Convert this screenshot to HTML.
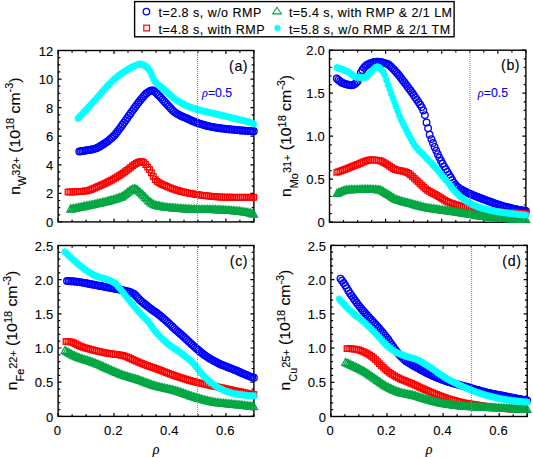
<!DOCTYPE html>
<html><head><meta charset="utf-8"><style>
html,body{margin:0;padding:0;background:#fff;width:533px;height:458px;overflow:hidden;position:relative}
text{font-family:"Liberation Sans",sans-serif;fill:#000;stroke:#000;stroke-width:0.12px}
.rho{font-family:"Liberation Serif",serif;font-style:italic;font-size:14px}
.rhoi{font-family:"Liberation Serif",serif;font-style:italic}
</style></head><body>
<svg width="533" height="458" viewBox="0 0 533 458" style="position:absolute;left:0;top:0"><defs><circle id="mc" r="3.3" fill="none" stroke="#0000FF" stroke-width="1.35"/><rect id="ms" x="-2.75" y="-2.75" width="5.5" height="5.5" fill="none" stroke="#FF0000" stroke-width="1.3"/><path id="mt" d="M0,-4.1 L3.7,2.75 L-3.7,2.75 Z" fill="none" stroke="#02A642" stroke-width="1.3" stroke-linejoin="miter"/><path id="mx" d="M0.00,-3.55 L0.98,-2.36 L2.51,-2.51 L2.36,-0.98 L3.55,0.00 L2.36,0.98 L2.51,2.51 L0.98,2.36 L0.00,3.55 L-0.98,2.36 L-2.51,2.51 L-2.36,0.98 L-3.55,0.00 L-2.36,-0.98 L-2.51,-2.51 L-0.98,-2.36 Z" fill="#00FFFF" stroke="#00FFFF" stroke-width="0.7" stroke-linejoin="round"/></defs><rect x="58.1" y="50.5" width="195.8" height="171.4" fill="none" stroke="#000" stroke-width="1.4"/><path d="M58.1,221.9v-3.5M58.1,50.5v3.5M72.1,221.9v-2.2M72.1,50.5v2.2M86.1,221.9v-2.2M86.1,50.5v2.2M100.1,221.9v-2.2M100.1,50.5v2.2M114.0,221.9v-3.5M114.0,50.5v3.5M128.0,221.9v-2.2M128.0,50.5v2.2M142.0,221.9v-2.2M142.0,50.5v2.2M156.0,221.9v-2.2M156.0,50.5v2.2M170.0,221.9v-3.5M170.0,50.5v3.5M184.0,221.9v-2.2M184.0,50.5v2.2M198.0,221.9v-2.2M198.0,50.5v2.2M211.9,221.9v-2.2M211.9,50.5v2.2M225.9,221.9v-3.5M225.9,50.5v3.5M239.9,221.9v-2.2M239.9,50.5v2.2M253.9,221.9v-2.2M253.9,50.5v2.2M58.1,221.9h3.5M253.9,221.9h-3.5M58.1,214.8h2.2M253.9,214.8h-2.2M58.1,207.6h2.2M253.9,207.6h-2.2M58.1,200.5h2.2M253.9,200.5h-2.2M58.1,193.3h3.5M253.9,193.3h-3.5M58.1,186.2h2.2M253.9,186.2h-2.2M58.1,179.1h2.2M253.9,179.1h-2.2M58.1,171.9h2.2M253.9,171.9h-2.2M58.1,164.8h3.5M253.9,164.8h-3.5M58.1,157.6h2.2M253.9,157.6h-2.2M58.1,150.5h2.2M253.9,150.5h-2.2M58.1,143.3h2.2M253.9,143.3h-2.2M58.1,136.2h3.5M253.9,136.2h-3.5M58.1,129.1h2.2M253.9,129.1h-2.2M58.1,121.9h2.2M253.9,121.9h-2.2M58.1,114.8h2.2M253.9,114.8h-2.2M58.1,107.6h3.5M253.9,107.6h-3.5M58.1,100.5h2.2M253.9,100.5h-2.2M58.1,93.3h2.2M253.9,93.3h-2.2M58.1,86.2h2.2M253.9,86.2h-2.2M58.1,79.1h3.5M253.9,79.1h-3.5M58.1,71.9h2.2M253.9,71.9h-2.2M58.1,64.8h2.2M253.9,64.8h-2.2M58.1,57.6h2.2M253.9,57.6h-2.2M58.1,50.5h3.5M253.9,50.5h-3.5" stroke="#000" stroke-width="1.2" fill="none"/><g><use href="#mc" x="79.3" y="151.5"/><use href="#mc" x="80.9" y="151.3"/><use href="#mc" x="82.5" y="151.0"/><use href="#mc" x="84.1" y="150.8"/><use href="#mc" x="85.7" y="150.5"/><use href="#mc" x="87.3" y="150.2"/><use href="#mc" x="88.9" y="150.0"/><use href="#mc" x="90.5" y="149.7"/><use href="#mc" x="92.1" y="149.4"/><use href="#mc" x="93.7" y="149.0"/><use href="#mc" x="95.3" y="148.6"/><use href="#mc" x="96.9" y="148.0"/><use href="#mc" x="98.5" y="147.2"/><use href="#mc" x="100.1" y="146.3"/><use href="#mc" x="101.7" y="145.3"/><use href="#mc" x="103.3" y="144.3"/><use href="#mc" x="104.9" y="143.3"/><use href="#mc" x="106.5" y="142.1"/><use href="#mc" x="108.1" y="140.9"/><use href="#mc" x="109.7" y="139.6"/><use href="#mc" x="111.3" y="138.3"/><use href="#mc" x="112.9" y="136.8"/><use href="#mc" x="114.5" y="135.2"/><use href="#mc" x="116.1" y="133.3"/><use href="#mc" x="117.7" y="131.2"/><use href="#mc" x="119.3" y="129.1"/><use href="#mc" x="120.9" y="126.9"/><use href="#mc" x="122.5" y="124.7"/><use href="#mc" x="124.1" y="122.5"/><use href="#mc" x="125.7" y="120.2"/><use href="#mc" x="127.3" y="117.9"/><use href="#mc" x="128.9" y="115.6"/><use href="#mc" x="130.5" y="113.4"/><use href="#mc" x="132.1" y="111.1"/><use href="#mc" x="133.7" y="108.9"/><use href="#mc" x="135.3" y="106.8"/><use href="#mc" x="136.9" y="104.6"/><use href="#mc" x="138.5" y="102.5"/><use href="#mc" x="140.1" y="100.5"/><use href="#mc" x="141.7" y="98.6"/><use href="#mc" x="143.3" y="96.7"/><use href="#mc" x="144.9" y="94.8"/><use href="#mc" x="146.5" y="93.3"/><use href="#mc" x="148.1" y="92.1"/><use href="#mc" x="149.7" y="91.1"/><use href="#mc" x="151.3" y="90.4"/><use href="#mc" x="152.9" y="90.4"/><use href="#mc" x="154.5" y="91.3"/><use href="#mc" x="156.1" y="92.8"/><use href="#mc" x="157.7" y="94.4"/><use href="#mc" x="159.3" y="95.9"/><use href="#mc" x="160.9" y="97.6"/><use href="#mc" x="162.5" y="99.4"/><use href="#mc" x="164.1" y="101.2"/><use href="#mc" x="165.7" y="102.9"/><use href="#mc" x="167.4" y="104.7"/><use href="#mc" x="169.0" y="106.4"/><use href="#mc" x="170.6" y="108.2"/><use href="#mc" x="172.2" y="109.9"/><use href="#mc" x="173.8" y="111.4"/><use href="#mc" x="175.4" y="112.6"/><use href="#mc" x="177.0" y="113.7"/><use href="#mc" x="178.6" y="114.6"/><use href="#mc" x="180.2" y="115.4"/><use href="#mc" x="181.8" y="116.2"/><use href="#mc" x="183.4" y="116.9"/><use href="#mc" x="185.0" y="117.6"/><use href="#mc" x="186.6" y="118.3"/><use href="#mc" x="188.2" y="119.0"/><use href="#mc" x="189.8" y="119.8"/><use href="#mc" x="191.4" y="120.5"/><use href="#mc" x="193.0" y="121.2"/><use href="#mc" x="194.6" y="121.8"/><use href="#mc" x="196.2" y="122.4"/><use href="#mc" x="197.8" y="123.0"/><use href="#mc" x="199.4" y="123.6"/><use href="#mc" x="201.0" y="124.1"/><use href="#mc" x="202.6" y="124.5"/><use href="#mc" x="204.2" y="125.0"/><use href="#mc" x="205.8" y="125.4"/><use href="#mc" x="207.4" y="125.9"/><use href="#mc" x="209.0" y="126.3"/><use href="#mc" x="210.6" y="126.6"/><use href="#mc" x="212.2" y="127.0"/><use href="#mc" x="213.8" y="127.3"/><use href="#mc" x="215.4" y="127.6"/><use href="#mc" x="217.0" y="127.8"/><use href="#mc" x="218.6" y="128.0"/><use href="#mc" x="220.2" y="128.3"/><use href="#mc" x="221.8" y="128.5"/><use href="#mc" x="223.4" y="128.6"/><use href="#mc" x="225.0" y="128.8"/><use href="#mc" x="226.6" y="129.0"/><use href="#mc" x="228.2" y="129.2"/><use href="#mc" x="229.8" y="129.3"/><use href="#mc" x="231.4" y="129.5"/><use href="#mc" x="233.0" y="129.6"/><use href="#mc" x="234.6" y="129.8"/><use href="#mc" x="236.2" y="130.0"/><use href="#mc" x="237.8" y="130.1"/><use href="#mc" x="239.4" y="130.2"/><use href="#mc" x="241.0" y="130.4"/><use href="#mc" x="242.6" y="130.5"/><use href="#mc" x="244.2" y="130.6"/><use href="#mc" x="245.8" y="130.8"/><use href="#mc" x="247.4" y="130.9"/><use href="#mc" x="249.0" y="131.0"/><use href="#mc" x="250.6" y="131.1"/><use href="#mc" x="252.2" y="131.2"/><use href="#mc" x="253.8" y="131.3"/></g><g><use href="#ms" x="68.0" y="192.0"/><use href="#ms" x="69.9" y="192.0"/><use href="#ms" x="71.8" y="191.9"/><use href="#ms" x="73.7" y="191.9"/><use href="#ms" x="75.6" y="191.8"/><use href="#ms" x="77.5" y="191.7"/><use href="#ms" x="79.4" y="191.5"/><use href="#ms" x="81.3" y="191.4"/><use href="#ms" x="83.2" y="191.2"/><use href="#ms" x="85.1" y="191.0"/><use href="#ms" x="87.0" y="190.8"/><use href="#ms" x="88.9" y="190.3"/><use href="#ms" x="90.8" y="189.7"/><use href="#ms" x="92.6" y="188.9"/><use href="#ms" x="94.5" y="188.1"/><use href="#ms" x="96.4" y="187.2"/><use href="#ms" x="98.3" y="186.4"/><use href="#ms" x="100.2" y="185.6"/><use href="#ms" x="102.1" y="184.7"/><use href="#ms" x="104.0" y="183.9"/><use href="#ms" x="105.9" y="183.0"/><use href="#ms" x="107.8" y="182.0"/><use href="#ms" x="109.7" y="181.1"/><use href="#ms" x="111.6" y="180.1"/><use href="#ms" x="113.5" y="179.0"/><use href="#ms" x="115.4" y="178.0"/><use href="#ms" x="117.3" y="176.8"/><use href="#ms" x="119.2" y="175.6"/><use href="#ms" x="121.1" y="174.4"/><use href="#ms" x="123.0" y="173.1"/><use href="#ms" x="124.9" y="171.8"/><use href="#ms" x="126.8" y="170.4"/><use href="#ms" x="128.7" y="169.0"/><use href="#ms" x="130.6" y="167.4"/><use href="#ms" x="132.5" y="165.8"/><use href="#ms" x="134.4" y="164.5"/><use href="#ms" x="136.3" y="163.4"/><use href="#ms" x="138.1" y="162.4"/><use href="#ms" x="140.0" y="161.7"/><use href="#ms" x="141.9" y="161.5"/><use href="#ms" x="143.8" y="162.6"/><use href="#ms" x="145.7" y="164.6"/><use href="#ms" x="147.6" y="167.1"/><use href="#ms" x="149.5" y="169.6"/><use href="#ms" x="151.4" y="172.8"/><use href="#ms" x="153.3" y="176.5"/><use href="#ms" x="155.2" y="179.6"/><use href="#ms" x="157.1" y="181.4"/><use href="#ms" x="159.0" y="182.7"/><use href="#ms" x="160.9" y="183.8"/><use href="#ms" x="162.8" y="184.7"/><use href="#ms" x="164.7" y="185.5"/><use href="#ms" x="166.6" y="186.3"/><use href="#ms" x="168.5" y="187.2"/><use href="#ms" x="170.4" y="187.9"/><use href="#ms" x="172.3" y="188.7"/><use href="#ms" x="174.2" y="189.3"/><use href="#ms" x="176.1" y="190.0"/><use href="#ms" x="178.0" y="190.5"/><use href="#ms" x="179.9" y="191.1"/><use href="#ms" x="181.8" y="191.6"/><use href="#ms" x="183.7" y="192.0"/><use href="#ms" x="185.5" y="192.5"/><use href="#ms" x="187.4" y="192.9"/><use href="#ms" x="189.3" y="193.2"/><use href="#ms" x="191.2" y="193.6"/><use href="#ms" x="193.1" y="193.9"/><use href="#ms" x="195.0" y="194.3"/><use href="#ms" x="196.9" y="194.6"/><use href="#ms" x="198.8" y="194.8"/><use href="#ms" x="200.7" y="195.1"/><use href="#ms" x="202.6" y="195.4"/><use href="#ms" x="204.5" y="195.6"/><use href="#ms" x="206.4" y="195.8"/><use href="#ms" x="208.3" y="196.0"/><use href="#ms" x="210.2" y="196.2"/><use href="#ms" x="212.1" y="196.4"/><use href="#ms" x="214.0" y="196.6"/><use href="#ms" x="215.9" y="196.7"/><use href="#ms" x="217.8" y="196.9"/><use href="#ms" x="219.7" y="197.0"/><use href="#ms" x="221.6" y="197.1"/><use href="#ms" x="223.5" y="197.2"/><use href="#ms" x="225.4" y="197.2"/><use href="#ms" x="227.3" y="197.2"/><use href="#ms" x="229.2" y="197.2"/><use href="#ms" x="231.0" y="197.2"/><use href="#ms" x="232.9" y="197.3"/><use href="#ms" x="234.8" y="197.3"/><use href="#ms" x="236.7" y="197.3"/><use href="#ms" x="238.6" y="197.3"/><use href="#ms" x="240.5" y="197.3"/><use href="#ms" x="242.4" y="197.3"/><use href="#ms" x="244.3" y="197.3"/><use href="#ms" x="246.2" y="197.3"/><use href="#ms" x="248.1" y="197.3"/><use href="#ms" x="250.0" y="197.3"/><use href="#ms" x="251.9" y="197.3"/><use href="#ms" x="253.8" y="197.3"/></g><g><use href="#mt" x="70.5" y="209.3"/><use href="#mt" x="72.1" y="209.0"/><use href="#mt" x="73.7" y="208.7"/><use href="#mt" x="75.3" y="208.4"/><use href="#mt" x="76.9" y="208.1"/><use href="#mt" x="78.5" y="207.7"/><use href="#mt" x="80.1" y="207.4"/><use href="#mt" x="81.7" y="207.1"/><use href="#mt" x="83.3" y="206.8"/><use href="#mt" x="84.8" y="206.4"/><use href="#mt" x="86.4" y="206.1"/><use href="#mt" x="88.0" y="205.8"/><use href="#mt" x="89.6" y="205.4"/><use href="#mt" x="91.2" y="205.1"/><use href="#mt" x="92.8" y="204.8"/><use href="#mt" x="94.4" y="204.4"/><use href="#mt" x="96.0" y="204.1"/><use href="#mt" x="97.6" y="203.7"/><use href="#mt" x="99.2" y="203.4"/><use href="#mt" x="100.8" y="203.0"/><use href="#mt" x="102.4" y="202.6"/><use href="#mt" x="104.0" y="202.3"/><use href="#mt" x="105.6" y="201.9"/><use href="#mt" x="107.2" y="201.5"/><use href="#mt" x="108.8" y="201.0"/><use href="#mt" x="110.3" y="200.6"/><use href="#mt" x="111.9" y="200.2"/><use href="#mt" x="113.5" y="199.8"/><use href="#mt" x="115.1" y="199.3"/><use href="#mt" x="116.7" y="198.8"/><use href="#mt" x="118.3" y="198.2"/><use href="#mt" x="119.9" y="197.6"/><use href="#mt" x="121.5" y="197.0"/><use href="#mt" x="123.1" y="196.0"/><use href="#mt" x="124.7" y="194.9"/><use href="#mt" x="126.3" y="193.6"/><use href="#mt" x="127.9" y="192.3"/><use href="#mt" x="129.5" y="191.1"/><use href="#mt" x="131.1" y="190.1"/><use href="#mt" x="132.7" y="189.4"/><use href="#mt" x="134.3" y="189.0"/><use href="#mt" x="135.9" y="189.2"/><use href="#mt" x="137.4" y="190.1"/><use href="#mt" x="139.0" y="191.4"/><use href="#mt" x="140.6" y="192.9"/><use href="#mt" x="142.2" y="194.4"/><use href="#mt" x="143.8" y="195.8"/><use href="#mt" x="145.4" y="197.5"/><use href="#mt" x="147.0" y="199.2"/><use href="#mt" x="148.6" y="200.9"/><use href="#mt" x="150.2" y="202.2"/><use href="#mt" x="151.8" y="203.3"/><use href="#mt" x="153.4" y="204.4"/><use href="#mt" x="155.0" y="205.2"/><use href="#mt" x="156.6" y="205.6"/><use href="#mt" x="158.2" y="206.0"/><use href="#mt" x="159.8" y="206.3"/><use href="#mt" x="161.4" y="206.6"/><use href="#mt" x="162.9" y="206.9"/><use href="#mt" x="164.5" y="207.1"/><use href="#mt" x="166.1" y="207.4"/><use href="#mt" x="167.7" y="207.6"/><use href="#mt" x="169.3" y="207.7"/><use href="#mt" x="170.9" y="207.9"/><use href="#mt" x="172.5" y="208.0"/><use href="#mt" x="174.1" y="208.2"/><use href="#mt" x="175.7" y="208.3"/><use href="#mt" x="177.3" y="208.4"/><use href="#mt" x="178.9" y="208.6"/><use href="#mt" x="180.5" y="208.7"/><use href="#mt" x="182.1" y="208.8"/><use href="#mt" x="183.7" y="208.9"/><use href="#mt" x="185.3" y="209.0"/><use href="#mt" x="186.9" y="209.1"/><use href="#mt" x="188.4" y="209.2"/><use href="#mt" x="190.0" y="209.3"/><use href="#mt" x="191.6" y="209.4"/><use href="#mt" x="193.2" y="209.4"/><use href="#mt" x="194.8" y="209.5"/><use href="#mt" x="196.4" y="209.5"/><use href="#mt" x="198.0" y="209.6"/><use href="#mt" x="199.6" y="209.6"/><use href="#mt" x="201.2" y="209.6"/><use href="#mt" x="202.8" y="209.6"/><use href="#mt" x="204.4" y="209.6"/><use href="#mt" x="206.0" y="209.7"/><use href="#mt" x="207.6" y="209.7"/><use href="#mt" x="209.2" y="209.7"/><use href="#mt" x="210.8" y="209.7"/><use href="#mt" x="212.4" y="209.7"/><use href="#mt" x="214.0" y="209.8"/><use href="#mt" x="215.5" y="209.8"/><use href="#mt" x="217.1" y="209.9"/><use href="#mt" x="218.7" y="209.9"/><use href="#mt" x="220.3" y="210.0"/><use href="#mt" x="221.9" y="210.1"/><use href="#mt" x="223.5" y="210.2"/><use href="#mt" x="225.1" y="210.3"/><use href="#mt" x="226.7" y="210.4"/><use href="#mt" x="228.3" y="210.5"/><use href="#mt" x="229.9" y="210.6"/><use href="#mt" x="231.5" y="210.7"/><use href="#mt" x="233.1" y="210.9"/><use href="#mt" x="234.7" y="211.0"/><use href="#mt" x="236.3" y="211.1"/><use href="#mt" x="237.9" y="211.3"/><use href="#mt" x="239.5" y="211.5"/><use href="#mt" x="241.0" y="211.7"/><use href="#mt" x="242.6" y="211.9"/><use href="#mt" x="244.2" y="212.1"/><use href="#mt" x="245.8" y="212.4"/><use href="#mt" x="247.4" y="212.6"/><use href="#mt" x="249.0" y="212.9"/><use href="#mt" x="250.6" y="213.3"/><use href="#mt" x="252.2" y="213.8"/><use href="#mt" x="253.8" y="214.3"/></g><g><use href="#mx" x="78.0" y="118.5"/><use href="#mx" x="79.6" y="116.8"/><use href="#mx" x="81.2" y="115.1"/><use href="#mx" x="82.8" y="113.4"/><use href="#mx" x="84.4" y="111.7"/><use href="#mx" x="86.0" y="110.0"/><use href="#mx" x="87.6" y="108.2"/><use href="#mx" x="89.2" y="106.5"/><use href="#mx" x="90.8" y="104.8"/><use href="#mx" x="92.4" y="103.0"/><use href="#mx" x="94.0" y="101.3"/><use href="#mx" x="95.6" y="99.5"/><use href="#mx" x="97.2" y="97.7"/><use href="#mx" x="98.8" y="95.8"/><use href="#mx" x="100.4" y="93.9"/><use href="#mx" x="102.0" y="92.0"/><use href="#mx" x="103.6" y="90.2"/><use href="#mx" x="105.2" y="88.4"/><use href="#mx" x="106.8" y="86.6"/><use href="#mx" x="108.4" y="84.9"/><use href="#mx" x="110.0" y="83.4"/><use href="#mx" x="111.6" y="81.8"/><use href="#mx" x="113.2" y="80.3"/><use href="#mx" x="114.8" y="78.9"/><use href="#mx" x="116.4" y="77.5"/><use href="#mx" x="118.0" y="76.1"/><use href="#mx" x="119.6" y="74.9"/><use href="#mx" x="121.2" y="73.8"/><use href="#mx" x="122.7" y="72.7"/><use href="#mx" x="124.3" y="71.6"/><use href="#mx" x="125.9" y="70.6"/><use href="#mx" x="127.5" y="69.6"/><use href="#mx" x="129.1" y="68.7"/><use href="#mx" x="130.7" y="67.8"/><use href="#mx" x="132.3" y="67.0"/><use href="#mx" x="133.9" y="66.3"/><use href="#mx" x="135.5" y="65.6"/><use href="#mx" x="137.1" y="64.9"/><use href="#mx" x="138.7" y="64.3"/><use href="#mx" x="140.3" y="64.0"/><use href="#mx" x="141.9" y="64.2"/><use href="#mx" x="143.5" y="64.9"/><use href="#mx" x="145.1" y="65.9"/><use href="#mx" x="146.7" y="67.2"/><use href="#mx" x="148.3" y="68.6"/><use href="#mx" x="149.9" y="71.0"/><use href="#mx" x="151.5" y="74.4"/><use href="#mx" x="153.1" y="78.1"/><use href="#mx" x="154.7" y="81.0"/><use href="#mx" x="156.3" y="82.9"/><use href="#mx" x="157.9" y="84.4"/><use href="#mx" x="159.5" y="85.8"/><use href="#mx" x="161.1" y="87.0"/><use href="#mx" x="162.7" y="88.3"/><use href="#mx" x="164.3" y="89.7"/><use href="#mx" x="165.9" y="91.1"/><use href="#mx" x="167.5" y="92.6"/><use href="#mx" x="169.1" y="94.1"/><use href="#mx" x="170.7" y="95.6"/><use href="#mx" x="172.3" y="97.0"/><use href="#mx" x="173.9" y="98.3"/><use href="#mx" x="175.5" y="99.4"/><use href="#mx" x="177.1" y="100.5"/><use href="#mx" x="178.7" y="101.5"/><use href="#mx" x="180.3" y="102.4"/><use href="#mx" x="181.9" y="103.3"/><use href="#mx" x="183.5" y="104.2"/><use href="#mx" x="185.1" y="105.0"/><use href="#mx" x="186.7" y="105.7"/><use href="#mx" x="188.3" y="106.4"/><use href="#mx" x="189.9" y="107.0"/><use href="#mx" x="191.5" y="107.6"/><use href="#mx" x="193.1" y="108.2"/><use href="#mx" x="194.7" y="108.7"/><use href="#mx" x="196.3" y="109.2"/><use href="#mx" x="197.9" y="109.7"/><use href="#mx" x="199.5" y="110.1"/><use href="#mx" x="201.1" y="110.5"/><use href="#mx" x="202.7" y="110.9"/><use href="#mx" x="204.3" y="111.3"/><use href="#mx" x="205.9" y="111.6"/><use href="#mx" x="207.5" y="112.0"/><use href="#mx" x="209.1" y="112.3"/><use href="#mx" x="210.6" y="112.7"/><use href="#mx" x="212.2" y="113.1"/><use href="#mx" x="213.8" y="113.5"/><use href="#mx" x="215.4" y="113.8"/><use href="#mx" x="217.0" y="114.2"/><use href="#mx" x="218.6" y="114.6"/><use href="#mx" x="220.2" y="114.9"/><use href="#mx" x="221.8" y="115.3"/><use href="#mx" x="223.4" y="115.7"/><use href="#mx" x="225.0" y="116.1"/><use href="#mx" x="226.6" y="116.5"/><use href="#mx" x="228.2" y="116.9"/><use href="#mx" x="229.8" y="117.3"/><use href="#mx" x="231.4" y="117.7"/><use href="#mx" x="233.0" y="118.1"/><use href="#mx" x="234.6" y="118.5"/><use href="#mx" x="236.2" y="118.9"/><use href="#mx" x="237.8" y="119.3"/><use href="#mx" x="239.4" y="119.7"/><use href="#mx" x="241.0" y="120.1"/><use href="#mx" x="242.6" y="120.4"/><use href="#mx" x="244.2" y="120.8"/><use href="#mx" x="245.8" y="121.2"/><use href="#mx" x="247.4" y="121.6"/><use href="#mx" x="249.0" y="122.1"/><use href="#mx" x="250.6" y="122.7"/><use href="#mx" x="252.2" y="123.3"/><use href="#mx" x="253.8" y="124.0"/></g><line x1="197.6" y1="51" x2="197.6" y2="221" stroke="#7878ff" stroke-width="1" stroke-dasharray="1 1"/><text transform="translate(53.50,227.00) scale(1.0,1)" text-anchor="end" style="font-size:13px;letter-spacing:0.2px" >0</text><text transform="translate(53.50,198.43) scale(1.0,1)" text-anchor="end" style="font-size:13px;letter-spacing:0.2px" >2</text><text transform="translate(53.50,169.87) scale(1.0,1)" text-anchor="end" style="font-size:13px;letter-spacing:0.2px" >4</text><text transform="translate(53.50,141.30) scale(1.0,1)" text-anchor="end" style="font-size:13px;letter-spacing:0.2px" >6</text><text transform="translate(53.50,112.73) scale(1.0,1)" text-anchor="end" style="font-size:13px;letter-spacing:0.2px" >8</text><text transform="translate(53.50,84.17) scale(1.0,1)" text-anchor="end" style="font-size:13px;letter-spacing:0.2px" >10</text><text transform="translate(53.50,55.60) scale(1.0,1)" text-anchor="end" style="font-size:13px;letter-spacing:0.2px" >12</text><text transform="translate(248.20,70.60) scale(1.0,1)" text-anchor="end" style="font-size:14.2px;letter-spacing:0.6px" >(a)</text><text transform="translate(202.0,96.8) scale(1.0,1)" style="font-size:12.3px;fill:#0000FF;stroke:#0000FF"><tspan class="rhoi">&#961;</tspan>=0.5</text><rect x="329.5" y="50.2" width="196.4" height="172.0" fill="none" stroke="#000" stroke-width="1.4"/><path d="M329.5,222.2v-3.5M329.5,50.2v3.5M343.5,222.2v-2.2M343.5,50.2v2.2M357.6,222.2v-2.2M357.6,50.2v2.2M371.6,222.2v-2.2M371.6,50.2v2.2M385.6,222.2v-3.5M385.6,50.2v3.5M399.6,222.2v-2.2M399.6,50.2v2.2M413.7,222.2v-2.2M413.7,50.2v2.2M427.7,222.2v-2.2M427.7,50.2v2.2M441.7,222.2v-3.5M441.7,50.2v3.5M455.8,222.2v-2.2M455.8,50.2v2.2M469.8,222.2v-2.2M469.8,50.2v2.2M483.8,222.2v-2.2M483.8,50.2v2.2M497.8,222.2v-3.5M497.8,50.2v3.5M511.9,222.2v-2.2M511.9,50.2v2.2M525.9,222.2v-2.2M525.9,50.2v2.2M329.5,222.2h3.5M525.9,222.2h-3.5M329.5,213.6h2.2M525.9,213.6h-2.2M329.5,205.0h2.2M525.9,205.0h-2.2M329.5,196.4h2.2M525.9,196.4h-2.2M329.5,187.8h2.2M525.9,187.8h-2.2M329.5,179.2h3.5M525.9,179.2h-3.5M329.5,170.6h2.2M525.9,170.6h-2.2M329.5,162.0h2.2M525.9,162.0h-2.2M329.5,153.4h2.2M525.9,153.4h-2.2M329.5,144.8h2.2M525.9,144.8h-2.2M329.5,136.2h3.5M525.9,136.2h-3.5M329.5,127.6h2.2M525.9,127.6h-2.2M329.5,119.0h2.2M525.9,119.0h-2.2M329.5,110.4h2.2M525.9,110.4h-2.2M329.5,101.8h2.2M525.9,101.8h-2.2M329.5,93.2h3.5M525.9,93.2h-3.5M329.5,84.6h2.2M525.9,84.6h-2.2M329.5,76.0h2.2M525.9,76.0h-2.2M329.5,67.4h2.2M525.9,67.4h-2.2M329.5,58.8h2.2M525.9,58.8h-2.2M329.5,50.2h3.5M525.9,50.2h-3.5" stroke="#000" stroke-width="1.2" fill="none"/><g><use href="#mc" x="336.8" y="78.5"/><use href="#mc" x="338.4" y="79.9"/><use href="#mc" x="340.0" y="81.3"/><use href="#mc" x="341.6" y="82.4"/><use href="#mc" x="343.2" y="83.2"/><use href="#mc" x="344.8" y="83.8"/><use href="#mc" x="346.4" y="84.3"/><use href="#mc" x="348.0" y="84.8"/><use href="#mc" x="349.6" y="85.1"/><use href="#mc" x="351.2" y="85.3"/><use href="#mc" x="352.8" y="85.1"/><use href="#mc" x="354.4" y="84.2"/><use href="#mc" x="356.0" y="82.9"/><use href="#mc" x="357.6" y="81.2"/><use href="#mc" x="359.2" y="77.4"/><use href="#mc" x="360.8" y="72.7"/><use href="#mc" x="362.4" y="70.0"/><use href="#mc" x="364.0" y="67.7"/><use href="#mc" x="365.6" y="65.9"/><use href="#mc" x="367.2" y="64.7"/><use href="#mc" x="368.9" y="64.0"/><use href="#mc" x="370.5" y="63.3"/><use href="#mc" x="372.1" y="62.7"/><use href="#mc" x="373.7" y="62.2"/><use href="#mc" x="375.3" y="61.9"/><use href="#mc" x="376.9" y="61.8"/><use href="#mc" x="378.5" y="61.8"/><use href="#mc" x="380.1" y="62.0"/><use href="#mc" x="381.7" y="62.3"/><use href="#mc" x="383.3" y="62.6"/><use href="#mc" x="384.9" y="63.1"/><use href="#mc" x="386.5" y="63.6"/><use href="#mc" x="388.1" y="64.2"/><use href="#mc" x="389.7" y="65.4"/><use href="#mc" x="391.3" y="66.9"/><use href="#mc" x="392.9" y="68.6"/><use href="#mc" x="394.5" y="70.3"/><use href="#mc" x="396.1" y="72.0"/><use href="#mc" x="397.7" y="73.8"/><use href="#mc" x="399.3" y="75.7"/><use href="#mc" x="400.9" y="77.8"/><use href="#mc" x="402.5" y="79.9"/><use href="#mc" x="404.1" y="82.0"/><use href="#mc" x="405.7" y="84.1"/><use href="#mc" x="407.3" y="86.2"/><use href="#mc" x="408.9" y="88.4"/><use href="#mc" x="410.5" y="90.5"/><use href="#mc" x="412.1" y="92.7"/><use href="#mc" x="413.7" y="95.0"/><use href="#mc" x="415.3" y="97.4"/><use href="#mc" x="416.9" y="99.8"/><use href="#mc" x="418.5" y="102.1"/><use href="#mc" x="420.1" y="104.4"/><use href="#mc" x="421.7" y="107.1"/><use href="#mc" x="423.3" y="110.4"/><use href="#mc" x="424.9" y="115.1"/><use href="#mc" x="426.5" y="122.4"/><use href="#mc" x="428.1" y="128.2"/><use href="#mc" x="429.7" y="134.7"/><use href="#mc" x="431.4" y="139.1"/><use href="#mc" x="433.0" y="143.0"/><use href="#mc" x="434.6" y="146.9"/><use href="#mc" x="436.2" y="150.6"/><use href="#mc" x="437.8" y="154.2"/><use href="#mc" x="439.4" y="157.6"/><use href="#mc" x="441.0" y="160.8"/><use href="#mc" x="442.6" y="163.7"/><use href="#mc" x="444.2" y="166.6"/><use href="#mc" x="445.8" y="169.3"/><use href="#mc" x="447.4" y="171.9"/><use href="#mc" x="449.0" y="174.6"/><use href="#mc" x="450.6" y="177.3"/><use href="#mc" x="452.2" y="180.0"/><use href="#mc" x="453.8" y="182.6"/><use href="#mc" x="455.4" y="184.8"/><use href="#mc" x="457.0" y="186.6"/><use href="#mc" x="458.6" y="187.8"/><use href="#mc" x="460.2" y="188.9"/><use href="#mc" x="461.8" y="189.8"/><use href="#mc" x="463.4" y="190.7"/><use href="#mc" x="465.0" y="191.4"/><use href="#mc" x="466.6" y="192.2"/><use href="#mc" x="468.2" y="192.9"/><use href="#mc" x="469.8" y="193.7"/><use href="#mc" x="471.4" y="194.4"/><use href="#mc" x="473.0" y="195.1"/><use href="#mc" x="474.6" y="195.8"/><use href="#mc" x="476.2" y="196.4"/><use href="#mc" x="477.8" y="197.0"/><use href="#mc" x="479.4" y="197.7"/><use href="#mc" x="481.0" y="198.3"/><use href="#mc" x="482.6" y="198.9"/><use href="#mc" x="484.2" y="199.5"/><use href="#mc" x="485.8" y="200.1"/><use href="#mc" x="487.4" y="200.7"/><use href="#mc" x="489.0" y="201.2"/><use href="#mc" x="490.6" y="201.8"/><use href="#mc" x="492.2" y="202.4"/><use href="#mc" x="493.8" y="203.0"/><use href="#mc" x="495.5" y="203.6"/><use href="#mc" x="497.1" y="204.1"/><use href="#mc" x="498.7" y="204.6"/><use href="#mc" x="500.3" y="205.2"/><use href="#mc" x="501.9" y="205.7"/><use href="#mc" x="503.5" y="206.1"/><use href="#mc" x="505.1" y="206.6"/><use href="#mc" x="506.7" y="207.0"/><use href="#mc" x="508.3" y="207.4"/><use href="#mc" x="509.9" y="207.8"/><use href="#mc" x="511.5" y="208.2"/><use href="#mc" x="513.1" y="208.6"/><use href="#mc" x="514.7" y="208.9"/><use href="#mc" x="516.3" y="209.3"/><use href="#mc" x="517.9" y="209.6"/><use href="#mc" x="519.5" y="209.9"/><use href="#mc" x="521.1" y="210.2"/><use href="#mc" x="522.7" y="210.5"/><use href="#mc" x="524.3" y="210.8"/><use href="#mc" x="525.9" y="211.0"/></g><g><use href="#ms" x="336.8" y="172.3"/><use href="#ms" x="338.7" y="171.7"/><use href="#ms" x="340.6" y="171.0"/><use href="#ms" x="342.5" y="170.3"/><use href="#ms" x="344.4" y="169.6"/><use href="#ms" x="346.3" y="168.9"/><use href="#ms" x="348.1" y="168.2"/><use href="#ms" x="350.0" y="167.4"/><use href="#ms" x="351.9" y="166.6"/><use href="#ms" x="353.8" y="165.8"/><use href="#ms" x="355.7" y="165.1"/><use href="#ms" x="357.6" y="164.4"/><use href="#ms" x="359.5" y="163.6"/><use href="#ms" x="361.4" y="162.8"/><use href="#ms" x="363.3" y="162.0"/><use href="#ms" x="365.2" y="161.2"/><use href="#ms" x="367.1" y="160.6"/><use href="#ms" x="368.9" y="160.1"/><use href="#ms" x="370.8" y="159.9"/><use href="#ms" x="372.7" y="159.9"/><use href="#ms" x="374.6" y="160.0"/><use href="#ms" x="376.5" y="160.2"/><use href="#ms" x="378.4" y="160.4"/><use href="#ms" x="380.3" y="160.8"/><use href="#ms" x="382.2" y="161.6"/><use href="#ms" x="384.1" y="162.7"/><use href="#ms" x="386.0" y="163.8"/><use href="#ms" x="387.9" y="164.9"/><use href="#ms" x="389.7" y="166.2"/><use href="#ms" x="391.6" y="167.5"/><use href="#ms" x="393.5" y="168.7"/><use href="#ms" x="395.4" y="169.5"/><use href="#ms" x="397.3" y="170.1"/><use href="#ms" x="399.2" y="170.5"/><use href="#ms" x="401.1" y="170.8"/><use href="#ms" x="403.0" y="171.2"/><use href="#ms" x="404.9" y="171.7"/><use href="#ms" x="406.8" y="172.4"/><use href="#ms" x="408.7" y="173.4"/><use href="#ms" x="410.5" y="174.9"/><use href="#ms" x="412.4" y="176.5"/><use href="#ms" x="414.3" y="178.3"/><use href="#ms" x="416.2" y="180.0"/><use href="#ms" x="418.1" y="181.7"/><use href="#ms" x="420.0" y="183.6"/><use href="#ms" x="421.9" y="185.4"/><use href="#ms" x="423.8" y="187.2"/><use href="#ms" x="425.7" y="188.9"/><use href="#ms" x="427.6" y="190.3"/><use href="#ms" x="429.5" y="191.4"/><use href="#ms" x="431.4" y="192.5"/><use href="#ms" x="433.2" y="193.5"/><use href="#ms" x="435.1" y="194.4"/><use href="#ms" x="437.0" y="195.5"/><use href="#ms" x="438.9" y="196.6"/><use href="#ms" x="440.8" y="197.8"/><use href="#ms" x="442.7" y="199.0"/><use href="#ms" x="444.6" y="200.2"/><use href="#ms" x="446.5" y="201.3"/><use href="#ms" x="448.4" y="202.1"/><use href="#ms" x="450.3" y="202.9"/><use href="#ms" x="452.2" y="203.5"/><use href="#ms" x="454.0" y="204.2"/><use href="#ms" x="455.9" y="204.7"/><use href="#ms" x="457.8" y="205.3"/><use href="#ms" x="459.7" y="205.8"/><use href="#ms" x="461.6" y="206.3"/><use href="#ms" x="463.5" y="206.7"/><use href="#ms" x="465.4" y="207.1"/><use href="#ms" x="467.3" y="207.5"/><use href="#ms" x="469.2" y="207.9"/><use href="#ms" x="471.1" y="208.2"/><use href="#ms" x="473.0" y="208.6"/><use href="#ms" x="474.8" y="208.9"/><use href="#ms" x="476.7" y="209.2"/><use href="#ms" x="478.6" y="209.4"/><use href="#ms" x="480.5" y="209.7"/><use href="#ms" x="482.4" y="210.0"/><use href="#ms" x="484.3" y="210.3"/><use href="#ms" x="486.2" y="210.5"/><use href="#ms" x="488.1" y="210.8"/><use href="#ms" x="490.0" y="211.0"/><use href="#ms" x="491.9" y="211.2"/><use href="#ms" x="493.8" y="211.4"/><use href="#ms" x="495.6" y="211.6"/><use href="#ms" x="497.5" y="211.8"/><use href="#ms" x="499.4" y="212.0"/><use href="#ms" x="501.3" y="212.1"/><use href="#ms" x="503.2" y="212.3"/><use href="#ms" x="505.1" y="212.4"/><use href="#ms" x="507.0" y="212.5"/><use href="#ms" x="508.9" y="212.7"/><use href="#ms" x="510.8" y="212.8"/><use href="#ms" x="512.7" y="212.9"/><use href="#ms" x="514.6" y="213.0"/><use href="#ms" x="516.4" y="213.1"/><use href="#ms" x="518.3" y="213.2"/><use href="#ms" x="520.2" y="213.3"/><use href="#ms" x="522.1" y="213.4"/><use href="#ms" x="524.0" y="213.4"/><use href="#ms" x="525.9" y="213.5"/></g><g><use href="#mt" x="337.0" y="193.5"/><use href="#mt" x="338.6" y="192.8"/><use href="#mt" x="340.2" y="192.1"/><use href="#mt" x="341.8" y="191.4"/><use href="#mt" x="343.4" y="190.9"/><use href="#mt" x="345.0" y="190.4"/><use href="#mt" x="346.6" y="190.1"/><use href="#mt" x="348.2" y="190.0"/><use href="#mt" x="349.8" y="189.9"/><use href="#mt" x="351.4" y="189.8"/><use href="#mt" x="353.0" y="189.8"/><use href="#mt" x="354.6" y="189.7"/><use href="#mt" x="356.2" y="189.7"/><use href="#mt" x="357.8" y="189.6"/><use href="#mt" x="359.4" y="189.6"/><use href="#mt" x="361.0" y="189.5"/><use href="#mt" x="362.6" y="189.5"/><use href="#mt" x="364.2" y="189.5"/><use href="#mt" x="365.8" y="189.5"/><use href="#mt" x="367.4" y="189.5"/><use href="#mt" x="369.0" y="189.5"/><use href="#mt" x="370.6" y="189.5"/><use href="#mt" x="372.2" y="189.6"/><use href="#mt" x="373.8" y="189.7"/><use href="#mt" x="375.4" y="189.7"/><use href="#mt" x="377.0" y="189.8"/><use href="#mt" x="378.6" y="190.0"/><use href="#mt" x="380.2" y="190.2"/><use href="#mt" x="381.8" y="190.9"/><use href="#mt" x="383.4" y="191.8"/><use href="#mt" x="385.0" y="192.8"/><use href="#mt" x="386.6" y="193.8"/><use href="#mt" x="388.2" y="194.7"/><use href="#mt" x="389.8" y="195.7"/><use href="#mt" x="391.4" y="196.8"/><use href="#mt" x="393.0" y="197.8"/><use href="#mt" x="394.6" y="198.8"/><use href="#mt" x="396.2" y="199.6"/><use href="#mt" x="397.8" y="200.2"/><use href="#mt" x="399.4" y="200.7"/><use href="#mt" x="401.0" y="201.2"/><use href="#mt" x="402.6" y="201.7"/><use href="#mt" x="404.2" y="202.1"/><use href="#mt" x="405.8" y="202.5"/><use href="#mt" x="407.4" y="202.9"/><use href="#mt" x="409.0" y="203.3"/><use href="#mt" x="410.6" y="203.7"/><use href="#mt" x="412.2" y="204.2"/><use href="#mt" x="413.8" y="204.6"/><use href="#mt" x="415.4" y="205.1"/><use href="#mt" x="417.0" y="205.5"/><use href="#mt" x="418.6" y="206.0"/><use href="#mt" x="420.2" y="206.4"/><use href="#mt" x="421.8" y="206.8"/><use href="#mt" x="423.4" y="207.2"/><use href="#mt" x="425.0" y="207.6"/><use href="#mt" x="426.6" y="207.9"/><use href="#mt" x="428.2" y="208.2"/><use href="#mt" x="429.8" y="208.5"/><use href="#mt" x="431.4" y="208.7"/><use href="#mt" x="433.1" y="209.0"/><use href="#mt" x="434.7" y="209.2"/><use href="#mt" x="436.3" y="209.4"/><use href="#mt" x="437.9" y="209.7"/><use href="#mt" x="439.5" y="209.9"/><use href="#mt" x="441.1" y="210.1"/><use href="#mt" x="442.7" y="210.3"/><use href="#mt" x="444.3" y="210.5"/><use href="#mt" x="445.9" y="210.7"/><use href="#mt" x="447.5" y="211.0"/><use href="#mt" x="449.1" y="211.2"/><use href="#mt" x="450.7" y="211.5"/><use href="#mt" x="452.3" y="211.7"/><use href="#mt" x="453.9" y="211.9"/><use href="#mt" x="455.5" y="212.2"/><use href="#mt" x="457.1" y="212.4"/><use href="#mt" x="458.7" y="212.7"/><use href="#mt" x="460.3" y="212.9"/><use href="#mt" x="461.9" y="213.2"/><use href="#mt" x="463.5" y="213.4"/><use href="#mt" x="465.1" y="213.7"/><use href="#mt" x="466.7" y="213.9"/><use href="#mt" x="468.3" y="214.2"/><use href="#mt" x="469.9" y="214.4"/><use href="#mt" x="471.5" y="214.7"/><use href="#mt" x="473.1" y="214.9"/><use href="#mt" x="474.7" y="215.2"/><use href="#mt" x="476.3" y="215.5"/><use href="#mt" x="477.9" y="215.8"/><use href="#mt" x="479.5" y="216.0"/><use href="#mt" x="481.1" y="216.3"/><use href="#mt" x="482.7" y="216.5"/><use href="#mt" x="484.3" y="216.7"/><use href="#mt" x="485.9" y="216.9"/><use href="#mt" x="487.5" y="217.0"/><use href="#mt" x="489.1" y="217.2"/><use href="#mt" x="490.7" y="217.3"/><use href="#mt" x="492.3" y="217.5"/><use href="#mt" x="493.9" y="217.6"/><use href="#mt" x="495.5" y="217.8"/><use href="#mt" x="497.1" y="217.9"/><use href="#mt" x="498.7" y="218.1"/><use href="#mt" x="500.3" y="218.2"/><use href="#mt" x="501.9" y="218.3"/><use href="#mt" x="503.5" y="218.5"/><use href="#mt" x="505.1" y="218.6"/><use href="#mt" x="506.7" y="218.7"/><use href="#mt" x="508.3" y="218.8"/><use href="#mt" x="509.9" y="218.9"/><use href="#mt" x="511.5" y="219.0"/><use href="#mt" x="513.1" y="219.1"/><use href="#mt" x="514.7" y="219.2"/><use href="#mt" x="516.3" y="219.3"/><use href="#mt" x="517.9" y="219.3"/><use href="#mt" x="519.5" y="219.4"/><use href="#mt" x="521.1" y="219.4"/><use href="#mt" x="522.7" y="219.5"/><use href="#mt" x="524.3" y="219.5"/><use href="#mt" x="525.9" y="219.5"/></g><g><use href="#mx" x="336.8" y="67.6"/><use href="#mx" x="338.4" y="68.0"/><use href="#mx" x="340.0" y="68.5"/><use href="#mx" x="341.6" y="69.1"/><use href="#mx" x="343.2" y="69.7"/><use href="#mx" x="344.8" y="70.4"/><use href="#mx" x="346.4" y="71.1"/><use href="#mx" x="348.0" y="71.8"/><use href="#mx" x="349.6" y="72.8"/><use href="#mx" x="351.2" y="74.1"/><use href="#mx" x="352.8" y="75.3"/><use href="#mx" x="354.4" y="76.4"/><use href="#mx" x="356.0" y="77.2"/><use href="#mx" x="357.6" y="77.5"/><use href="#mx" x="359.2" y="77.5"/><use href="#mx" x="360.8" y="77.5"/><use href="#mx" x="362.4" y="77.5"/><use href="#mx" x="364.0" y="77.5"/><use href="#mx" x="365.6" y="77.5"/><use href="#mx" x="367.2" y="76.4"/><use href="#mx" x="368.9" y="74.4"/><use href="#mx" x="370.5" y="72.4"/><use href="#mx" x="372.1" y="70.8"/><use href="#mx" x="373.7" y="69.0"/><use href="#mx" x="375.3" y="67.5"/><use href="#mx" x="376.9" y="66.7"/><use href="#mx" x="378.5" y="67.1"/><use href="#mx" x="380.1" y="68.2"/><use href="#mx" x="381.7" y="70.0"/><use href="#mx" x="383.3" y="72.0"/><use href="#mx" x="384.9" y="75.4"/><use href="#mx" x="386.5" y="80.0"/><use href="#mx" x="388.1" y="85.0"/><use href="#mx" x="389.7" y="89.4"/><use href="#mx" x="391.3" y="93.7"/><use href="#mx" x="392.9" y="97.9"/><use href="#mx" x="394.5" y="102.2"/><use href="#mx" x="396.1" y="106.5"/><use href="#mx" x="397.7" y="111.0"/><use href="#mx" x="399.3" y="115.3"/><use href="#mx" x="400.9" y="119.2"/><use href="#mx" x="402.5" y="122.6"/><use href="#mx" x="404.1" y="125.7"/><use href="#mx" x="405.7" y="128.8"/><use href="#mx" x="407.3" y="131.9"/><use href="#mx" x="408.9" y="135.0"/><use href="#mx" x="410.5" y="138.0"/><use href="#mx" x="412.1" y="141.0"/><use href="#mx" x="413.7" y="143.8"/><use href="#mx" x="415.3" y="146.1"/><use href="#mx" x="416.9" y="148.0"/><use href="#mx" x="418.5" y="149.9"/><use href="#mx" x="420.1" y="151.6"/><use href="#mx" x="421.7" y="153.2"/><use href="#mx" x="423.3" y="154.7"/><use href="#mx" x="424.9" y="156.3"/><use href="#mx" x="426.5" y="158.0"/><use href="#mx" x="428.1" y="159.7"/><use href="#mx" x="429.7" y="161.5"/><use href="#mx" x="431.4" y="163.2"/><use href="#mx" x="433.0" y="164.9"/><use href="#mx" x="434.6" y="166.7"/><use href="#mx" x="436.2" y="168.4"/><use href="#mx" x="437.8" y="170.3"/><use href="#mx" x="439.4" y="172.1"/><use href="#mx" x="441.0" y="174.0"/><use href="#mx" x="442.6" y="176.0"/><use href="#mx" x="444.2" y="177.9"/><use href="#mx" x="445.8" y="179.9"/><use href="#mx" x="447.4" y="181.8"/><use href="#mx" x="449.0" y="183.8"/><use href="#mx" x="450.6" y="185.8"/><use href="#mx" x="452.2" y="187.9"/><use href="#mx" x="453.8" y="189.9"/><use href="#mx" x="455.4" y="191.8"/><use href="#mx" x="457.0" y="193.5"/><use href="#mx" x="458.6" y="195.0"/><use href="#mx" x="460.2" y="196.5"/><use href="#mx" x="461.8" y="197.9"/><use href="#mx" x="463.4" y="199.2"/><use href="#mx" x="465.0" y="200.3"/><use href="#mx" x="466.6" y="201.4"/><use href="#mx" x="468.2" y="202.3"/><use href="#mx" x="469.8" y="203.2"/><use href="#mx" x="471.4" y="204.0"/><use href="#mx" x="473.0" y="204.8"/><use href="#mx" x="474.6" y="205.5"/><use href="#mx" x="476.2" y="206.2"/><use href="#mx" x="477.8" y="206.8"/><use href="#mx" x="479.4" y="207.4"/><use href="#mx" x="481.0" y="207.9"/><use href="#mx" x="482.6" y="208.4"/><use href="#mx" x="484.2" y="208.8"/><use href="#mx" x="485.8" y="209.2"/><use href="#mx" x="487.4" y="209.6"/><use href="#mx" x="489.0" y="210.0"/><use href="#mx" x="490.6" y="210.3"/><use href="#mx" x="492.2" y="210.7"/><use href="#mx" x="493.8" y="211.0"/><use href="#mx" x="495.5" y="211.3"/><use href="#mx" x="497.1" y="211.6"/><use href="#mx" x="498.7" y="211.8"/><use href="#mx" x="500.3" y="212.1"/><use href="#mx" x="501.9" y="212.3"/><use href="#mx" x="503.5" y="212.6"/><use href="#mx" x="505.1" y="212.8"/><use href="#mx" x="506.7" y="213.0"/><use href="#mx" x="508.3" y="213.2"/><use href="#mx" x="509.9" y="213.4"/><use href="#mx" x="511.5" y="213.6"/><use href="#mx" x="513.1" y="213.8"/><use href="#mx" x="514.7" y="214.0"/><use href="#mx" x="516.3" y="214.2"/><use href="#mx" x="517.9" y="214.3"/><use href="#mx" x="519.5" y="214.5"/><use href="#mx" x="521.1" y="214.6"/><use href="#mx" x="522.7" y="214.8"/><use href="#mx" x="524.3" y="214.9"/><use href="#mx" x="525.9" y="215.0"/></g><line x1="470.0" y1="51" x2="470.0" y2="222" stroke="#7878ff" stroke-width="1" stroke-dasharray="1 1"/><text transform="translate(324.90,227.30) scale(1.0,1)" text-anchor="end" style="font-size:13px;letter-spacing:0.2px" >0</text><text transform="translate(324.90,184.30) scale(1.0,1)" text-anchor="end" style="font-size:13px;letter-spacing:0.2px" >0.5</text><text transform="translate(324.90,141.30) scale(1.0,1)" text-anchor="end" style="font-size:13px;letter-spacing:0.2px" >1.0</text><text transform="translate(324.90,98.30) scale(1.0,1)" text-anchor="end" style="font-size:13px;letter-spacing:0.2px" >1.5</text><text transform="translate(324.90,55.30) scale(1.0,1)" text-anchor="end" style="font-size:13px;letter-spacing:0.2px" >2.0</text><text transform="translate(520.20,70.30) scale(1.0,1)" text-anchor="end" style="font-size:14.2px;letter-spacing:0.6px" >(b)</text><text transform="translate(477.8,96.5) scale(1.0,1)" style="font-size:12.3px;fill:#0000FF;stroke:#0000FF"><tspan class="rhoi">&#961;</tspan>=0.5</text><rect x="58.1" y="245.5" width="195.8" height="170.9" fill="none" stroke="#000" stroke-width="1.4"/><path d="M58.1,416.4v-3.5M58.1,245.5v3.5M72.1,416.4v-2.2M72.1,245.5v2.2M86.1,416.4v-2.2M86.1,245.5v2.2M100.1,416.4v-2.2M100.1,245.5v2.2M114.0,416.4v-3.5M114.0,245.5v3.5M128.0,416.4v-2.2M128.0,245.5v2.2M142.0,416.4v-2.2M142.0,245.5v2.2M156.0,416.4v-2.2M156.0,245.5v2.2M170.0,416.4v-3.5M170.0,245.5v3.5M184.0,416.4v-2.2M184.0,245.5v2.2M198.0,416.4v-2.2M198.0,245.5v2.2M211.9,416.4v-2.2M211.9,245.5v2.2M225.9,416.4v-3.5M225.9,245.5v3.5M239.9,416.4v-2.2M239.9,245.5v2.2M253.9,416.4v-2.2M253.9,245.5v2.2M58.1,416.4h3.5M253.9,416.4h-3.5M58.1,409.6h2.2M253.9,409.6h-2.2M58.1,402.7h2.2M253.9,402.7h-2.2M58.1,395.9h2.2M253.9,395.9h-2.2M58.1,389.1h2.2M253.9,389.1h-2.2M58.1,382.2h3.5M253.9,382.2h-3.5M58.1,375.4h2.2M253.9,375.4h-2.2M58.1,368.5h2.2M253.9,368.5h-2.2M58.1,361.7h2.2M253.9,361.7h-2.2M58.1,354.9h2.2M253.9,354.9h-2.2M58.1,348.0h3.5M253.9,348.0h-3.5M58.1,341.2h2.2M253.9,341.2h-2.2M58.1,334.4h2.2M253.9,334.4h-2.2M58.1,327.5h2.2M253.9,327.5h-2.2M58.1,320.7h2.2M253.9,320.7h-2.2M58.1,313.9h3.5M253.9,313.9h-3.5M58.1,307.0h2.2M253.9,307.0h-2.2M58.1,300.2h2.2M253.9,300.2h-2.2M58.1,293.4h2.2M253.9,293.4h-2.2M58.1,286.5h2.2M253.9,286.5h-2.2M58.1,279.7h3.5M253.9,279.7h-3.5M58.1,272.8h2.2M253.9,272.8h-2.2M58.1,266.0h2.2M253.9,266.0h-2.2M58.1,259.2h2.2M253.9,259.2h-2.2M58.1,252.3h2.2M253.9,252.3h-2.2M58.1,245.5h3.5M253.9,245.5h-3.5" stroke="#000" stroke-width="1.2" fill="none"/><g><use href="#mc" x="67.0" y="281.0"/><use href="#mc" x="68.6" y="281.1"/><use href="#mc" x="70.2" y="281.2"/><use href="#mc" x="71.8" y="281.3"/><use href="#mc" x="73.4" y="281.4"/><use href="#mc" x="75.0" y="281.5"/><use href="#mc" x="76.6" y="281.7"/><use href="#mc" x="78.2" y="281.9"/><use href="#mc" x="79.8" y="282.1"/><use href="#mc" x="81.4" y="282.4"/><use href="#mc" x="83.0" y="282.6"/><use href="#mc" x="84.6" y="282.9"/><use href="#mc" x="86.2" y="283.2"/><use href="#mc" x="87.8" y="283.5"/><use href="#mc" x="89.4" y="283.9"/><use href="#mc" x="91.0" y="284.2"/><use href="#mc" x="92.6" y="284.5"/><use href="#mc" x="94.2" y="284.8"/><use href="#mc" x="95.8" y="285.1"/><use href="#mc" x="97.4" y="285.4"/><use href="#mc" x="98.9" y="285.7"/><use href="#mc" x="100.5" y="286.0"/><use href="#mc" x="102.1" y="286.3"/><use href="#mc" x="103.7" y="286.6"/><use href="#mc" x="105.3" y="286.9"/><use href="#mc" x="106.9" y="287.2"/><use href="#mc" x="108.5" y="287.5"/><use href="#mc" x="110.1" y="287.8"/><use href="#mc" x="111.7" y="288.1"/><use href="#mc" x="113.3" y="288.4"/><use href="#mc" x="114.9" y="288.7"/><use href="#mc" x="116.5" y="289.0"/><use href="#mc" x="118.1" y="289.3"/><use href="#mc" x="119.7" y="289.6"/><use href="#mc" x="121.3" y="289.9"/><use href="#mc" x="122.9" y="290.2"/><use href="#mc" x="124.5" y="290.6"/><use href="#mc" x="126.1" y="291.0"/><use href="#mc" x="127.7" y="291.4"/><use href="#mc" x="129.3" y="291.8"/><use href="#mc" x="130.9" y="292.4"/><use href="#mc" x="132.5" y="293.1"/><use href="#mc" x="134.1" y="294.0"/><use href="#mc" x="135.7" y="295.5"/><use href="#mc" x="137.3" y="297.2"/><use href="#mc" x="138.9" y="298.9"/><use href="#mc" x="140.5" y="300.5"/><use href="#mc" x="142.1" y="301.9"/><use href="#mc" x="143.7" y="303.2"/><use href="#mc" x="145.3" y="304.5"/><use href="#mc" x="146.9" y="305.8"/><use href="#mc" x="148.5" y="307.1"/><use href="#mc" x="150.1" y="308.3"/><use href="#mc" x="151.7" y="309.5"/><use href="#mc" x="153.3" y="310.6"/><use href="#mc" x="154.9" y="311.7"/><use href="#mc" x="156.5" y="312.8"/><use href="#mc" x="158.1" y="314.1"/><use href="#mc" x="159.7" y="315.3"/><use href="#mc" x="161.2" y="316.6"/><use href="#mc" x="162.8" y="318.0"/><use href="#mc" x="164.4" y="319.3"/><use href="#mc" x="166.0" y="320.7"/><use href="#mc" x="167.6" y="322.1"/><use href="#mc" x="169.2" y="323.6"/><use href="#mc" x="170.8" y="325.1"/><use href="#mc" x="172.4" y="326.7"/><use href="#mc" x="174.0" y="328.2"/><use href="#mc" x="175.6" y="329.7"/><use href="#mc" x="177.2" y="331.1"/><use href="#mc" x="178.8" y="332.5"/><use href="#mc" x="180.4" y="333.9"/><use href="#mc" x="182.0" y="335.3"/><use href="#mc" x="183.6" y="336.8"/><use href="#mc" x="185.2" y="338.2"/><use href="#mc" x="186.8" y="339.7"/><use href="#mc" x="188.4" y="341.2"/><use href="#mc" x="190.0" y="342.7"/><use href="#mc" x="191.6" y="344.2"/><use href="#mc" x="193.2" y="345.6"/><use href="#mc" x="194.8" y="347.1"/><use href="#mc" x="196.4" y="348.4"/><use href="#mc" x="198.0" y="349.8"/><use href="#mc" x="199.6" y="351.2"/><use href="#mc" x="201.2" y="352.5"/><use href="#mc" x="202.8" y="353.8"/><use href="#mc" x="204.4" y="355.0"/><use href="#mc" x="206.0" y="356.1"/><use href="#mc" x="207.6" y="357.1"/><use href="#mc" x="209.2" y="358.2"/><use href="#mc" x="210.8" y="359.1"/><use href="#mc" x="212.4" y="360.1"/><use href="#mc" x="214.0" y="361.0"/><use href="#mc" x="215.6" y="361.8"/><use href="#mc" x="217.2" y="362.6"/><use href="#mc" x="218.8" y="363.4"/><use href="#mc" x="220.4" y="364.2"/><use href="#mc" x="222.0" y="364.9"/><use href="#mc" x="223.5" y="365.5"/><use href="#mc" x="225.1" y="366.1"/><use href="#mc" x="226.7" y="366.8"/><use href="#mc" x="228.3" y="367.4"/><use href="#mc" x="229.9" y="368.0"/><use href="#mc" x="231.5" y="368.6"/><use href="#mc" x="233.1" y="369.2"/><use href="#mc" x="234.7" y="369.9"/><use href="#mc" x="236.3" y="370.5"/><use href="#mc" x="237.9" y="371.3"/><use href="#mc" x="239.5" y="372.0"/><use href="#mc" x="241.1" y="372.7"/><use href="#mc" x="242.7" y="373.4"/><use href="#mc" x="244.3" y="374.1"/><use href="#mc" x="245.9" y="374.8"/><use href="#mc" x="247.5" y="375.4"/><use href="#mc" x="249.1" y="376.1"/><use href="#mc" x="250.7" y="376.7"/><use href="#mc" x="252.3" y="377.2"/><use href="#mc" x="253.9" y="377.8"/></g><g><use href="#ms" x="66.0" y="341.5"/><use href="#ms" x="67.9" y="341.6"/><use href="#ms" x="69.8" y="341.8"/><use href="#ms" x="71.7" y="342.2"/><use href="#ms" x="73.6" y="342.9"/><use href="#ms" x="75.5" y="343.8"/><use href="#ms" x="77.4" y="344.8"/><use href="#ms" x="79.3" y="345.8"/><use href="#ms" x="81.2" y="346.6"/><use href="#ms" x="83.1" y="347.2"/><use href="#ms" x="85.0" y="347.8"/><use href="#ms" x="86.9" y="348.4"/><use href="#ms" x="88.8" y="348.9"/><use href="#ms" x="90.7" y="349.4"/><use href="#ms" x="92.6" y="349.9"/><use href="#ms" x="94.5" y="350.4"/><use href="#ms" x="96.4" y="350.9"/><use href="#ms" x="98.3" y="351.3"/><use href="#ms" x="100.2" y="351.7"/><use href="#ms" x="102.1" y="352.2"/><use href="#ms" x="104.0" y="352.5"/><use href="#ms" x="105.9" y="352.9"/><use href="#ms" x="107.8" y="353.3"/><use href="#ms" x="109.7" y="353.6"/><use href="#ms" x="111.6" y="353.9"/><use href="#ms" x="113.4" y="354.1"/><use href="#ms" x="115.3" y="354.4"/><use href="#ms" x="117.2" y="354.6"/><use href="#ms" x="119.1" y="354.8"/><use href="#ms" x="121.0" y="355.2"/><use href="#ms" x="122.9" y="355.5"/><use href="#ms" x="124.8" y="356.1"/><use href="#ms" x="126.7" y="356.8"/><use href="#ms" x="128.6" y="357.6"/><use href="#ms" x="130.5" y="358.5"/><use href="#ms" x="132.4" y="359.4"/><use href="#ms" x="134.3" y="360.3"/><use href="#ms" x="136.2" y="361.1"/><use href="#ms" x="138.1" y="361.9"/><use href="#ms" x="140.0" y="362.7"/><use href="#ms" x="141.9" y="363.5"/><use href="#ms" x="143.8" y="364.3"/><use href="#ms" x="145.7" y="365.0"/><use href="#ms" x="147.6" y="365.7"/><use href="#ms" x="149.5" y="366.4"/><use href="#ms" x="151.4" y="367.0"/><use href="#ms" x="153.3" y="367.6"/><use href="#ms" x="155.2" y="368.3"/><use href="#ms" x="157.1" y="369.0"/><use href="#ms" x="159.0" y="369.7"/><use href="#ms" x="160.9" y="370.4"/><use href="#ms" x="162.8" y="371.2"/><use href="#ms" x="164.7" y="371.9"/><use href="#ms" x="166.6" y="372.7"/><use href="#ms" x="168.5" y="373.4"/><use href="#ms" x="170.4" y="374.1"/><use href="#ms" x="172.3" y="374.8"/><use href="#ms" x="174.2" y="375.5"/><use href="#ms" x="176.1" y="376.2"/><use href="#ms" x="178.0" y="376.8"/><use href="#ms" x="179.9" y="377.4"/><use href="#ms" x="181.8" y="378.0"/><use href="#ms" x="183.7" y="378.6"/><use href="#ms" x="185.6" y="379.2"/><use href="#ms" x="187.5" y="379.8"/><use href="#ms" x="189.4" y="380.4"/><use href="#ms" x="191.3" y="380.9"/><use href="#ms" x="193.2" y="381.4"/><use href="#ms" x="195.1" y="381.9"/><use href="#ms" x="197.0" y="382.4"/><use href="#ms" x="198.9" y="382.9"/><use href="#ms" x="200.8" y="383.3"/><use href="#ms" x="202.7" y="383.7"/><use href="#ms" x="204.6" y="384.1"/><use href="#ms" x="206.5" y="384.5"/><use href="#ms" x="208.3" y="384.9"/><use href="#ms" x="210.2" y="385.3"/><use href="#ms" x="212.1" y="385.8"/><use href="#ms" x="214.0" y="386.2"/><use href="#ms" x="215.9" y="386.6"/><use href="#ms" x="217.8" y="387.0"/><use href="#ms" x="219.7" y="387.4"/><use href="#ms" x="221.6" y="387.8"/><use href="#ms" x="223.5" y="388.2"/><use href="#ms" x="225.4" y="388.6"/><use href="#ms" x="227.3" y="389.1"/><use href="#ms" x="229.2" y="389.5"/><use href="#ms" x="231.1" y="389.9"/><use href="#ms" x="233.0" y="390.3"/><use href="#ms" x="234.9" y="390.7"/><use href="#ms" x="236.8" y="391.1"/><use href="#ms" x="238.7" y="391.5"/><use href="#ms" x="240.6" y="391.9"/><use href="#ms" x="242.5" y="392.3"/><use href="#ms" x="244.4" y="392.7"/><use href="#ms" x="246.3" y="393.1"/><use href="#ms" x="248.2" y="393.4"/><use href="#ms" x="250.1" y="393.8"/><use href="#ms" x="252.0" y="394.2"/><use href="#ms" x="253.9" y="394.5"/></g><g><use href="#mt" x="65.0" y="350.6"/><use href="#mt" x="66.6" y="351.6"/><use href="#mt" x="68.2" y="352.6"/><use href="#mt" x="69.8" y="353.5"/><use href="#mt" x="71.4" y="354.4"/><use href="#mt" x="73.0" y="355.3"/><use href="#mt" x="74.6" y="356.0"/><use href="#mt" x="76.2" y="356.8"/><use href="#mt" x="77.8" y="357.4"/><use href="#mt" x="79.4" y="358.0"/><use href="#mt" x="81.0" y="358.6"/><use href="#mt" x="82.6" y="359.2"/><use href="#mt" x="84.2" y="359.7"/><use href="#mt" x="85.8" y="360.2"/><use href="#mt" x="87.4" y="360.7"/><use href="#mt" x="89.0" y="361.2"/><use href="#mt" x="90.6" y="361.7"/><use href="#mt" x="92.2" y="362.3"/><use href="#mt" x="93.8" y="362.8"/><use href="#mt" x="95.4" y="363.4"/><use href="#mt" x="97.0" y="364.1"/><use href="#mt" x="98.6" y="364.7"/><use href="#mt" x="100.2" y="365.4"/><use href="#mt" x="101.8" y="366.1"/><use href="#mt" x="103.4" y="366.8"/><use href="#mt" x="105.0" y="367.6"/><use href="#mt" x="106.6" y="368.3"/><use href="#mt" x="108.2" y="369.0"/><use href="#mt" x="109.8" y="369.7"/><use href="#mt" x="111.4" y="370.4"/><use href="#mt" x="113.0" y="371.1"/><use href="#mt" x="114.6" y="371.8"/><use href="#mt" x="116.2" y="372.5"/><use href="#mt" x="117.8" y="373.2"/><use href="#mt" x="119.4" y="373.9"/><use href="#mt" x="121.0" y="374.5"/><use href="#mt" x="122.6" y="375.1"/><use href="#mt" x="124.2" y="375.7"/><use href="#mt" x="125.8" y="376.2"/><use href="#mt" x="127.4" y="376.7"/><use href="#mt" x="129.0" y="377.2"/><use href="#mt" x="130.6" y="377.7"/><use href="#mt" x="132.2" y="378.1"/><use href="#mt" x="133.8" y="378.6"/><use href="#mt" x="135.4" y="379.0"/><use href="#mt" x="137.0" y="379.5"/><use href="#mt" x="138.6" y="380.0"/><use href="#mt" x="140.2" y="380.6"/><use href="#mt" x="141.8" y="381.2"/><use href="#mt" x="143.4" y="381.8"/><use href="#mt" x="145.0" y="382.4"/><use href="#mt" x="146.6" y="383.0"/><use href="#mt" x="148.2" y="383.6"/><use href="#mt" x="149.8" y="384.2"/><use href="#mt" x="151.4" y="384.8"/><use href="#mt" x="153.0" y="385.3"/><use href="#mt" x="154.6" y="385.8"/><use href="#mt" x="156.2" y="386.3"/><use href="#mt" x="157.8" y="386.7"/><use href="#mt" x="159.4" y="387.1"/><use href="#mt" x="161.1" y="387.5"/><use href="#mt" x="162.7" y="387.9"/><use href="#mt" x="164.3" y="388.2"/><use href="#mt" x="165.9" y="388.6"/><use href="#mt" x="167.5" y="388.9"/><use href="#mt" x="169.1" y="389.3"/><use href="#mt" x="170.7" y="389.6"/><use href="#mt" x="172.3" y="390.0"/><use href="#mt" x="173.9" y="390.4"/><use href="#mt" x="175.5" y="390.9"/><use href="#mt" x="177.1" y="391.3"/><use href="#mt" x="178.7" y="391.8"/><use href="#mt" x="180.3" y="392.4"/><use href="#mt" x="181.9" y="392.9"/><use href="#mt" x="183.5" y="393.5"/><use href="#mt" x="185.1" y="394.0"/><use href="#mt" x="186.7" y="394.6"/><use href="#mt" x="188.3" y="395.2"/><use href="#mt" x="189.9" y="395.8"/><use href="#mt" x="191.5" y="396.3"/><use href="#mt" x="193.1" y="396.8"/><use href="#mt" x="194.7" y="397.3"/><use href="#mt" x="196.3" y="397.8"/><use href="#mt" x="197.9" y="398.3"/><use href="#mt" x="199.5" y="398.7"/><use href="#mt" x="201.1" y="399.2"/><use href="#mt" x="202.7" y="399.7"/><use href="#mt" x="204.3" y="400.1"/><use href="#mt" x="205.9" y="400.5"/><use href="#mt" x="207.5" y="400.9"/><use href="#mt" x="209.1" y="401.3"/><use href="#mt" x="210.7" y="401.7"/><use href="#mt" x="212.3" y="402.0"/><use href="#mt" x="213.9" y="402.3"/><use href="#mt" x="215.5" y="402.6"/><use href="#mt" x="217.1" y="402.8"/><use href="#mt" x="218.7" y="403.0"/><use href="#mt" x="220.3" y="403.2"/><use href="#mt" x="221.9" y="403.4"/><use href="#mt" x="223.5" y="403.5"/><use href="#mt" x="225.1" y="403.7"/><use href="#mt" x="226.7" y="403.8"/><use href="#mt" x="228.3" y="404.0"/><use href="#mt" x="229.9" y="404.1"/><use href="#mt" x="231.5" y="404.3"/><use href="#mt" x="233.1" y="404.4"/><use href="#mt" x="234.7" y="404.6"/><use href="#mt" x="236.3" y="404.8"/><use href="#mt" x="237.9" y="405.0"/><use href="#mt" x="239.5" y="405.1"/><use href="#mt" x="241.1" y="405.3"/><use href="#mt" x="242.7" y="405.5"/><use href="#mt" x="244.3" y="405.7"/><use href="#mt" x="245.9" y="405.9"/><use href="#mt" x="247.5" y="406.1"/><use href="#mt" x="249.1" y="406.2"/><use href="#mt" x="250.7" y="406.4"/><use href="#mt" x="252.3" y="406.6"/><use href="#mt" x="253.9" y="406.8"/></g><g><use href="#mx" x="64.8" y="251.8"/><use href="#mx" x="66.4" y="253.3"/><use href="#mx" x="68.0" y="254.9"/><use href="#mx" x="69.6" y="256.3"/><use href="#mx" x="71.2" y="257.8"/><use href="#mx" x="72.8" y="259.3"/><use href="#mx" x="74.4" y="260.7"/><use href="#mx" x="76.0" y="262.1"/><use href="#mx" x="77.6" y="263.5"/><use href="#mx" x="79.2" y="264.9"/><use href="#mx" x="80.8" y="266.2"/><use href="#mx" x="82.4" y="267.5"/><use href="#mx" x="84.0" y="268.8"/><use href="#mx" x="85.6" y="269.9"/><use href="#mx" x="87.2" y="271.0"/><use href="#mx" x="88.8" y="272.0"/><use href="#mx" x="90.4" y="273.0"/><use href="#mx" x="92.0" y="273.9"/><use href="#mx" x="93.6" y="274.8"/><use href="#mx" x="95.2" y="275.6"/><use href="#mx" x="96.9" y="276.3"/><use href="#mx" x="98.5" y="276.9"/><use href="#mx" x="100.1" y="277.4"/><use href="#mx" x="101.7" y="277.8"/><use href="#mx" x="103.3" y="278.3"/><use href="#mx" x="104.9" y="278.7"/><use href="#mx" x="106.5" y="279.2"/><use href="#mx" x="108.1" y="279.8"/><use href="#mx" x="109.7" y="280.5"/><use href="#mx" x="111.3" y="281.2"/><use href="#mx" x="112.9" y="282.0"/><use href="#mx" x="114.5" y="283.0"/><use href="#mx" x="116.1" y="284.2"/><use href="#mx" x="117.7" y="285.8"/><use href="#mx" x="119.3" y="287.7"/><use href="#mx" x="120.9" y="289.7"/><use href="#mx" x="122.5" y="291.7"/><use href="#mx" x="124.1" y="293.7"/><use href="#mx" x="125.7" y="295.7"/><use href="#mx" x="127.3" y="297.7"/><use href="#mx" x="128.9" y="299.8"/><use href="#mx" x="130.5" y="301.8"/><use href="#mx" x="132.1" y="303.7"/><use href="#mx" x="133.7" y="305.7"/><use href="#mx" x="135.3" y="307.7"/><use href="#mx" x="136.9" y="309.6"/><use href="#mx" x="138.5" y="311.5"/><use href="#mx" x="140.1" y="313.3"/><use href="#mx" x="141.7" y="315.0"/><use href="#mx" x="143.3" y="316.5"/><use href="#mx" x="144.9" y="318.1"/><use href="#mx" x="146.5" y="319.7"/><use href="#mx" x="148.1" y="321.4"/><use href="#mx" x="149.7" y="323.5"/><use href="#mx" x="151.3" y="325.8"/><use href="#mx" x="152.9" y="328.2"/><use href="#mx" x="154.5" y="330.4"/><use href="#mx" x="156.1" y="332.3"/><use href="#mx" x="157.7" y="334.1"/><use href="#mx" x="159.4" y="335.8"/><use href="#mx" x="161.0" y="337.5"/><use href="#mx" x="162.6" y="339.0"/><use href="#mx" x="164.2" y="340.5"/><use href="#mx" x="165.8" y="342.0"/><use href="#mx" x="167.4" y="343.3"/><use href="#mx" x="169.0" y="344.6"/><use href="#mx" x="170.6" y="345.9"/><use href="#mx" x="172.2" y="347.0"/><use href="#mx" x="173.8" y="348.1"/><use href="#mx" x="175.4" y="349.2"/><use href="#mx" x="177.0" y="350.3"/><use href="#mx" x="178.6" y="351.4"/><use href="#mx" x="180.2" y="352.5"/><use href="#mx" x="181.8" y="353.7"/><use href="#mx" x="183.4" y="355.0"/><use href="#mx" x="185.0" y="356.2"/><use href="#mx" x="186.6" y="357.4"/><use href="#mx" x="188.2" y="358.7"/><use href="#mx" x="189.8" y="360.1"/><use href="#mx" x="191.4" y="361.6"/><use href="#mx" x="193.0" y="363.1"/><use href="#mx" x="194.6" y="364.8"/><use href="#mx" x="196.2" y="366.8"/><use href="#mx" x="197.8" y="369.0"/><use href="#mx" x="199.4" y="371.1"/><use href="#mx" x="201.0" y="373.0"/><use href="#mx" x="202.6" y="374.8"/><use href="#mx" x="204.2" y="376.5"/><use href="#mx" x="205.8" y="378.1"/><use href="#mx" x="207.4" y="379.6"/><use href="#mx" x="209.0" y="381.0"/><use href="#mx" x="210.6" y="382.3"/><use href="#mx" x="212.2" y="383.5"/><use href="#mx" x="213.8" y="384.7"/><use href="#mx" x="215.4" y="385.8"/><use href="#mx" x="217.0" y="386.9"/><use href="#mx" x="218.6" y="387.8"/><use href="#mx" x="220.2" y="388.6"/><use href="#mx" x="221.8" y="389.4"/><use href="#mx" x="223.5" y="390.1"/><use href="#mx" x="225.1" y="390.8"/><use href="#mx" x="226.7" y="391.5"/><use href="#mx" x="228.3" y="392.1"/><use href="#mx" x="229.9" y="392.6"/><use href="#mx" x="231.5" y="393.1"/><use href="#mx" x="233.1" y="393.5"/><use href="#mx" x="234.7" y="393.8"/><use href="#mx" x="236.3" y="394.1"/><use href="#mx" x="237.9" y="394.3"/><use href="#mx" x="239.5" y="394.6"/><use href="#mx" x="241.1" y="394.8"/><use href="#mx" x="242.7" y="395.0"/><use href="#mx" x="244.3" y="395.2"/><use href="#mx" x="245.9" y="395.4"/><use href="#mx" x="247.5" y="395.5"/><use href="#mx" x="249.1" y="395.6"/><use href="#mx" x="250.7" y="395.7"/><use href="#mx" x="252.3" y="395.8"/><use href="#mx" x="253.9" y="395.8"/></g><line x1="197.6" y1="247" x2="197.6" y2="416" stroke="#7878ff" stroke-width="1" stroke-dasharray="1 1"/><text transform="translate(53.50,421.50) scale(1.0,1)" text-anchor="end" style="font-size:13px;letter-spacing:0.2px" >0</text><text transform="translate(53.50,387.32) scale(1.0,1)" text-anchor="end" style="font-size:13px;letter-spacing:0.2px" >0.5</text><text transform="translate(53.50,353.14) scale(1.0,1)" text-anchor="end" style="font-size:13px;letter-spacing:0.2px" >1.0</text><text transform="translate(53.50,318.96) scale(1.0,1)" text-anchor="end" style="font-size:13px;letter-spacing:0.2px" >1.5</text><text transform="translate(53.50,284.78) scale(1.0,1)" text-anchor="end" style="font-size:13px;letter-spacing:0.2px" >2.0</text><text transform="translate(53.50,250.60) scale(1.0,1)" text-anchor="end" style="font-size:13px;letter-spacing:0.2px" >2.5</text><text transform="translate(57.50,434.70) scale(1.0,1)" text-anchor="middle" style="font-size:13px;letter-spacing:0.2px" >0</text><text transform="translate(113.44,434.70) scale(1.0,1)" text-anchor="middle" style="font-size:13px;letter-spacing:0.2px" >0.2</text><text transform="translate(169.39,434.70) scale(1.0,1)" text-anchor="middle" style="font-size:13px;letter-spacing:0.2px" >0.4</text><text transform="translate(225.33,434.70) scale(1.0,1)" text-anchor="middle" style="font-size:13px;letter-spacing:0.2px" >0.6</text><text x="156.0" y="453.5" text-anchor="middle" class="rho">&#961;</text><text transform="translate(248.20,265.60) scale(1.0,1)" text-anchor="end" style="font-size:14.2px;letter-spacing:0.6px" >(c)</text><rect x="330.9" y="245.4" width="196.3" height="171.1" fill="none" stroke="#000" stroke-width="1.4"/><path d="M330.9,416.5v-3.5M330.9,245.4v3.5M344.9,416.5v-2.2M344.9,245.4v2.2M358.9,416.5v-2.2M358.9,245.4v2.2M373.0,416.5v-2.2M373.0,245.4v2.2M387.0,416.5v-3.5M387.0,245.4v3.5M401.0,416.5v-2.2M401.0,245.4v2.2M415.0,416.5v-2.2M415.0,245.4v2.2M429.1,416.5v-2.2M429.1,245.4v2.2M443.1,416.5v-3.5M443.1,245.4v3.5M457.1,416.5v-2.2M457.1,245.4v2.2M471.1,416.5v-2.2M471.1,245.4v2.2M485.1,416.5v-2.2M485.1,245.4v2.2M499.2,416.5v-3.5M499.2,245.4v3.5M513.2,416.5v-2.2M513.2,245.4v2.2M527.2,416.5v-2.2M527.2,245.4v2.2M330.9,416.5h3.5M527.2,416.5h-3.5M330.9,409.7h2.2M527.2,409.7h-2.2M330.9,402.8h2.2M527.2,402.8h-2.2M330.9,396.0h2.2M527.2,396.0h-2.2M330.9,389.1h2.2M527.2,389.1h-2.2M330.9,382.3h3.5M527.2,382.3h-3.5M330.9,375.4h2.2M527.2,375.4h-2.2M330.9,368.6h2.2M527.2,368.6h-2.2M330.9,361.7h2.2M527.2,361.7h-2.2M330.9,354.9h2.2M527.2,354.9h-2.2M330.9,348.1h3.5M527.2,348.1h-3.5M330.9,341.2h2.2M527.2,341.2h-2.2M330.9,334.4h2.2M527.2,334.4h-2.2M330.9,327.5h2.2M527.2,327.5h-2.2M330.9,320.7h2.2M527.2,320.7h-2.2M330.9,313.8h3.5M527.2,313.8h-3.5M330.9,307.0h2.2M527.2,307.0h-2.2M330.9,300.2h2.2M527.2,300.2h-2.2M330.9,293.3h2.2M527.2,293.3h-2.2M330.9,286.5h2.2M527.2,286.5h-2.2M330.9,279.6h3.5M527.2,279.6h-3.5M330.9,272.8h2.2M527.2,272.8h-2.2M330.9,265.9h2.2M527.2,265.9h-2.2M330.9,259.1h2.2M527.2,259.1h-2.2M330.9,252.2h2.2M527.2,252.2h-2.2M330.9,245.4h3.5M527.2,245.4h-3.5" stroke="#000" stroke-width="1.2" fill="none"/><g><use href="#mc" x="340.5" y="278.6"/><use href="#mc" x="342.1" y="280.7"/><use href="#mc" x="343.7" y="283.0"/><use href="#mc" x="345.3" y="285.4"/><use href="#mc" x="346.9" y="288.1"/><use href="#mc" x="348.5" y="290.9"/><use href="#mc" x="350.1" y="293.4"/><use href="#mc" x="351.7" y="295.7"/><use href="#mc" x="353.3" y="298.0"/><use href="#mc" x="354.9" y="300.3"/><use href="#mc" x="356.5" y="302.5"/><use href="#mc" x="358.1" y="304.6"/><use href="#mc" x="359.6" y="306.6"/><use href="#mc" x="361.2" y="308.5"/><use href="#mc" x="362.8" y="310.4"/><use href="#mc" x="364.4" y="312.2"/><use href="#mc" x="366.0" y="314.0"/><use href="#mc" x="367.6" y="315.8"/><use href="#mc" x="369.2" y="317.5"/><use href="#mc" x="370.8" y="319.3"/><use href="#mc" x="372.4" y="321.0"/><use href="#mc" x="374.0" y="322.7"/><use href="#mc" x="375.6" y="324.5"/><use href="#mc" x="377.2" y="326.2"/><use href="#mc" x="378.8" y="328.0"/><use href="#mc" x="380.4" y="329.9"/><use href="#mc" x="382.0" y="331.8"/><use href="#mc" x="383.6" y="333.7"/><use href="#mc" x="385.2" y="335.7"/><use href="#mc" x="386.8" y="337.7"/><use href="#mc" x="388.4" y="339.8"/><use href="#mc" x="390.0" y="342.1"/><use href="#mc" x="391.6" y="344.5"/><use href="#mc" x="393.2" y="346.8"/><use href="#mc" x="394.8" y="349.0"/><use href="#mc" x="396.4" y="351.1"/><use href="#mc" x="397.9" y="352.9"/><use href="#mc" x="399.5" y="354.7"/><use href="#mc" x="401.1" y="356.4"/><use href="#mc" x="402.7" y="358.0"/><use href="#mc" x="404.3" y="359.5"/><use href="#mc" x="405.9" y="360.9"/><use href="#mc" x="407.5" y="362.1"/><use href="#mc" x="409.1" y="363.1"/><use href="#mc" x="410.7" y="364.1"/><use href="#mc" x="412.3" y="365.0"/><use href="#mc" x="413.9" y="365.9"/><use href="#mc" x="415.5" y="366.8"/><use href="#mc" x="417.1" y="367.7"/><use href="#mc" x="418.7" y="368.6"/><use href="#mc" x="420.3" y="369.5"/><use href="#mc" x="421.9" y="370.4"/><use href="#mc" x="423.5" y="371.3"/><use href="#mc" x="425.1" y="372.1"/><use href="#mc" x="426.7" y="372.9"/><use href="#mc" x="428.3" y="373.7"/><use href="#mc" x="429.9" y="374.4"/><use href="#mc" x="431.5" y="375.2"/><use href="#mc" x="433.1" y="375.9"/><use href="#mc" x="434.6" y="376.6"/><use href="#mc" x="436.2" y="377.2"/><use href="#mc" x="437.8" y="377.9"/><use href="#mc" x="439.4" y="378.5"/><use href="#mc" x="441.0" y="379.2"/><use href="#mc" x="442.6" y="379.8"/><use href="#mc" x="444.2" y="380.3"/><use href="#mc" x="445.8" y="380.9"/><use href="#mc" x="447.4" y="381.4"/><use href="#mc" x="449.0" y="382.0"/><use href="#mc" x="450.6" y="382.5"/><use href="#mc" x="452.2" y="382.9"/><use href="#mc" x="453.8" y="383.4"/><use href="#mc" x="455.4" y="383.8"/><use href="#mc" x="457.0" y="384.3"/><use href="#mc" x="458.6" y="384.7"/><use href="#mc" x="460.2" y="385.1"/><use href="#mc" x="461.8" y="385.5"/><use href="#mc" x="463.4" y="385.9"/><use href="#mc" x="465.0" y="386.4"/><use href="#mc" x="466.6" y="386.8"/><use href="#mc" x="468.2" y="387.2"/><use href="#mc" x="469.8" y="387.7"/><use href="#mc" x="471.3" y="388.2"/><use href="#mc" x="472.9" y="388.6"/><use href="#mc" x="474.5" y="389.1"/><use href="#mc" x="476.1" y="389.6"/><use href="#mc" x="477.7" y="390.0"/><use href="#mc" x="479.3" y="390.5"/><use href="#mc" x="480.9" y="390.9"/><use href="#mc" x="482.5" y="391.4"/><use href="#mc" x="484.1" y="391.8"/><use href="#mc" x="485.7" y="392.2"/><use href="#mc" x="487.3" y="392.6"/><use href="#mc" x="488.9" y="392.9"/><use href="#mc" x="490.5" y="393.3"/><use href="#mc" x="492.1" y="393.6"/><use href="#mc" x="493.7" y="394.0"/><use href="#mc" x="495.3" y="394.3"/><use href="#mc" x="496.9" y="394.6"/><use href="#mc" x="498.5" y="394.9"/><use href="#mc" x="500.1" y="395.2"/><use href="#mc" x="501.7" y="395.5"/><use href="#mc" x="503.3" y="395.8"/><use href="#mc" x="504.9" y="396.2"/><use href="#mc" x="506.5" y="396.5"/><use href="#mc" x="508.1" y="396.8"/><use href="#mc" x="509.6" y="397.1"/><use href="#mc" x="511.2" y="397.4"/><use href="#mc" x="512.8" y="397.7"/><use href="#mc" x="514.4" y="398.0"/><use href="#mc" x="516.0" y="398.4"/><use href="#mc" x="517.6" y="398.7"/><use href="#mc" x="519.2" y="399.0"/><use href="#mc" x="520.8" y="399.3"/><use href="#mc" x="522.4" y="399.6"/><use href="#mc" x="524.0" y="399.9"/><use href="#mc" x="525.6" y="400.2"/><use href="#mc" x="527.2" y="400.5"/></g><g><use href="#ms" x="347.0" y="348.6"/><use href="#ms" x="348.9" y="348.6"/><use href="#ms" x="350.8" y="348.7"/><use href="#ms" x="352.7" y="348.9"/><use href="#ms" x="354.6" y="349.1"/><use href="#ms" x="356.5" y="349.4"/><use href="#ms" x="358.4" y="349.8"/><use href="#ms" x="360.3" y="350.5"/><use href="#ms" x="362.2" y="351.2"/><use href="#ms" x="364.1" y="352.1"/><use href="#ms" x="366.0" y="352.9"/><use href="#ms" x="367.9" y="353.9"/><use href="#ms" x="369.8" y="355.1"/><use href="#ms" x="371.7" y="356.4"/><use href="#ms" x="373.6" y="357.9"/><use href="#ms" x="375.5" y="359.6"/><use href="#ms" x="377.5" y="361.6"/><use href="#ms" x="379.4" y="363.7"/><use href="#ms" x="381.3" y="365.5"/><use href="#ms" x="383.2" y="367.3"/><use href="#ms" x="385.1" y="369.1"/><use href="#ms" x="387.0" y="370.7"/><use href="#ms" x="388.9" y="372.2"/><use href="#ms" x="390.8" y="373.5"/><use href="#ms" x="392.7" y="374.7"/><use href="#ms" x="394.6" y="375.9"/><use href="#ms" x="396.5" y="377.0"/><use href="#ms" x="398.4" y="377.9"/><use href="#ms" x="400.3" y="378.9"/><use href="#ms" x="402.2" y="379.7"/><use href="#ms" x="404.1" y="380.4"/><use href="#ms" x="406.0" y="381.2"/><use href="#ms" x="407.9" y="381.9"/><use href="#ms" x="409.8" y="382.7"/><use href="#ms" x="411.7" y="383.5"/><use href="#ms" x="413.6" y="384.4"/><use href="#ms" x="415.5" y="385.2"/><use href="#ms" x="417.4" y="386.1"/><use href="#ms" x="419.3" y="387.0"/><use href="#ms" x="421.2" y="387.9"/><use href="#ms" x="423.1" y="388.7"/><use href="#ms" x="425.0" y="389.6"/><use href="#ms" x="426.9" y="390.4"/><use href="#ms" x="428.8" y="391.2"/><use href="#ms" x="430.7" y="392.0"/><use href="#ms" x="432.6" y="392.8"/><use href="#ms" x="434.5" y="393.6"/><use href="#ms" x="436.5" y="394.4"/><use href="#ms" x="438.4" y="395.2"/><use href="#ms" x="440.3" y="395.9"/><use href="#ms" x="442.2" y="396.6"/><use href="#ms" x="444.1" y="397.3"/><use href="#ms" x="446.0" y="398.0"/><use href="#ms" x="447.9" y="398.6"/><use href="#ms" x="449.8" y="399.2"/><use href="#ms" x="451.7" y="399.7"/><use href="#ms" x="453.6" y="400.3"/><use href="#ms" x="455.5" y="400.8"/><use href="#ms" x="457.4" y="401.3"/><use href="#ms" x="459.3" y="401.8"/><use href="#ms" x="461.2" y="402.3"/><use href="#ms" x="463.1" y="402.7"/><use href="#ms" x="465.0" y="403.1"/><use href="#ms" x="466.9" y="403.4"/><use href="#ms" x="468.8" y="403.7"/><use href="#ms" x="470.7" y="404.0"/><use href="#ms" x="472.6" y="404.3"/><use href="#ms" x="474.5" y="404.6"/><use href="#ms" x="476.4" y="404.9"/><use href="#ms" x="478.3" y="405.2"/><use href="#ms" x="480.2" y="405.5"/><use href="#ms" x="482.1" y="405.8"/><use href="#ms" x="484.0" y="406.1"/><use href="#ms" x="485.9" y="406.4"/><use href="#ms" x="487.8" y="406.6"/><use href="#ms" x="489.7" y="406.9"/><use href="#ms" x="491.6" y="407.1"/><use href="#ms" x="493.5" y="407.4"/><use href="#ms" x="495.5" y="407.6"/><use href="#ms" x="497.4" y="407.8"/><use href="#ms" x="499.3" y="408.0"/><use href="#ms" x="501.2" y="408.2"/><use href="#ms" x="503.1" y="408.4"/><use href="#ms" x="505.0" y="408.6"/><use href="#ms" x="506.9" y="408.8"/><use href="#ms" x="508.8" y="408.9"/><use href="#ms" x="510.7" y="409.0"/><use href="#ms" x="512.6" y="409.2"/><use href="#ms" x="514.5" y="409.3"/><use href="#ms" x="516.4" y="409.3"/><use href="#ms" x="518.3" y="409.4"/><use href="#ms" x="520.2" y="409.5"/><use href="#ms" x="522.1" y="409.5"/><use href="#ms" x="524.0" y="409.5"/></g><g><use href="#mt" x="345.5" y="362.6"/><use href="#mt" x="347.1" y="363.3"/><use href="#mt" x="348.7" y="364.0"/><use href="#mt" x="350.3" y="364.8"/><use href="#mt" x="351.9" y="365.5"/><use href="#mt" x="353.5" y="366.3"/><use href="#mt" x="355.1" y="367.0"/><use href="#mt" x="356.7" y="367.8"/><use href="#mt" x="358.3" y="368.5"/><use href="#mt" x="359.8" y="369.3"/><use href="#mt" x="361.4" y="370.1"/><use href="#mt" x="363.0" y="371.0"/><use href="#mt" x="364.6" y="371.9"/><use href="#mt" x="366.2" y="372.9"/><use href="#mt" x="367.8" y="373.9"/><use href="#mt" x="369.4" y="375.0"/><use href="#mt" x="371.0" y="376.1"/><use href="#mt" x="372.6" y="377.2"/><use href="#mt" x="374.2" y="378.3"/><use href="#mt" x="375.8" y="379.4"/><use href="#mt" x="377.4" y="380.5"/><use href="#mt" x="379.0" y="381.6"/><use href="#mt" x="380.6" y="382.8"/><use href="#mt" x="382.2" y="383.9"/><use href="#mt" x="383.8" y="385.0"/><use href="#mt" x="385.3" y="386.0"/><use href="#mt" x="386.9" y="386.9"/><use href="#mt" x="388.5" y="387.7"/><use href="#mt" x="390.1" y="388.5"/><use href="#mt" x="391.7" y="389.3"/><use href="#mt" x="393.3" y="390.0"/><use href="#mt" x="394.9" y="390.7"/><use href="#mt" x="396.5" y="391.4"/><use href="#mt" x="398.1" y="392.0"/><use href="#mt" x="399.7" y="392.5"/><use href="#mt" x="401.3" y="393.0"/><use href="#mt" x="402.9" y="393.4"/><use href="#mt" x="404.5" y="393.7"/><use href="#mt" x="406.1" y="394.1"/><use href="#mt" x="407.7" y="394.4"/><use href="#mt" x="409.3" y="394.7"/><use href="#mt" x="410.8" y="395.0"/><use href="#mt" x="412.4" y="395.3"/><use href="#mt" x="414.0" y="395.7"/><use href="#mt" x="415.6" y="396.1"/><use href="#mt" x="417.2" y="396.6"/><use href="#mt" x="418.8" y="397.1"/><use href="#mt" x="420.4" y="397.6"/><use href="#mt" x="422.0" y="398.1"/><use href="#mt" x="423.6" y="398.6"/><use href="#mt" x="425.2" y="399.1"/><use href="#mt" x="426.8" y="399.6"/><use href="#mt" x="428.4" y="400.0"/><use href="#mt" x="430.0" y="400.4"/><use href="#mt" x="431.6" y="400.9"/><use href="#mt" x="433.2" y="401.3"/><use href="#mt" x="434.8" y="401.7"/><use href="#mt" x="436.4" y="402.1"/><use href="#mt" x="437.9" y="402.5"/><use href="#mt" x="439.5" y="402.9"/><use href="#mt" x="441.1" y="403.3"/><use href="#mt" x="442.7" y="403.6"/><use href="#mt" x="444.3" y="403.9"/><use href="#mt" x="445.9" y="404.2"/><use href="#mt" x="447.5" y="404.5"/><use href="#mt" x="449.1" y="404.7"/><use href="#mt" x="450.7" y="404.9"/><use href="#mt" x="452.3" y="405.1"/><use href="#mt" x="453.9" y="405.3"/><use href="#mt" x="455.5" y="405.5"/><use href="#mt" x="457.1" y="405.7"/><use href="#mt" x="458.7" y="405.9"/><use href="#mt" x="460.3" y="406.0"/><use href="#mt" x="461.9" y="406.2"/><use href="#mt" x="463.4" y="406.3"/><use href="#mt" x="465.0" y="406.4"/><use href="#mt" x="466.6" y="406.6"/><use href="#mt" x="468.2" y="406.7"/><use href="#mt" x="469.8" y="406.8"/><use href="#mt" x="471.4" y="406.9"/><use href="#mt" x="473.0" y="406.9"/><use href="#mt" x="474.6" y="407.0"/><use href="#mt" x="476.2" y="407.1"/><use href="#mt" x="477.8" y="407.2"/><use href="#mt" x="479.4" y="407.2"/><use href="#mt" x="481.0" y="407.3"/><use href="#mt" x="482.6" y="407.4"/><use href="#mt" x="484.2" y="407.5"/><use href="#mt" x="485.8" y="407.5"/><use href="#mt" x="487.4" y="407.6"/><use href="#mt" x="488.9" y="407.7"/><use href="#mt" x="490.5" y="407.8"/><use href="#mt" x="492.1" y="407.9"/><use href="#mt" x="493.7" y="407.9"/><use href="#mt" x="495.3" y="408.0"/><use href="#mt" x="496.9" y="408.1"/><use href="#mt" x="498.5" y="408.2"/><use href="#mt" x="500.1" y="408.3"/><use href="#mt" x="501.7" y="408.4"/><use href="#mt" x="503.3" y="408.4"/><use href="#mt" x="504.9" y="408.5"/><use href="#mt" x="506.5" y="408.6"/><use href="#mt" x="508.1" y="408.7"/><use href="#mt" x="509.7" y="408.7"/><use href="#mt" x="511.3" y="408.8"/><use href="#mt" x="512.9" y="408.9"/><use href="#mt" x="514.4" y="409.0"/><use href="#mt" x="516.0" y="409.0"/><use href="#mt" x="517.6" y="409.1"/><use href="#mt" x="519.2" y="409.2"/><use href="#mt" x="520.8" y="409.2"/><use href="#mt" x="522.4" y="409.3"/><use href="#mt" x="524.0" y="409.4"/><use href="#mt" x="525.6" y="409.4"/><use href="#mt" x="527.2" y="409.5"/></g><g><use href="#mx" x="339.2" y="299.0"/><use href="#mx" x="340.8" y="300.8"/><use href="#mx" x="342.4" y="302.6"/><use href="#mx" x="344.0" y="304.3"/><use href="#mx" x="345.6" y="306.0"/><use href="#mx" x="347.2" y="307.6"/><use href="#mx" x="348.8" y="309.2"/><use href="#mx" x="350.4" y="310.8"/><use href="#mx" x="351.9" y="312.2"/><use href="#mx" x="353.5" y="313.6"/><use href="#mx" x="355.1" y="314.9"/><use href="#mx" x="356.7" y="316.1"/><use href="#mx" x="358.3" y="317.4"/><use href="#mx" x="359.9" y="318.7"/><use href="#mx" x="361.5" y="320.0"/><use href="#mx" x="363.1" y="321.4"/><use href="#mx" x="364.7" y="322.8"/><use href="#mx" x="366.3" y="324.3"/><use href="#mx" x="367.9" y="325.7"/><use href="#mx" x="369.5" y="327.2"/><use href="#mx" x="371.1" y="328.8"/><use href="#mx" x="372.7" y="330.4"/><use href="#mx" x="374.3" y="332.0"/><use href="#mx" x="375.8" y="333.7"/><use href="#mx" x="377.4" y="335.4"/><use href="#mx" x="379.0" y="337.1"/><use href="#mx" x="380.6" y="339.0"/><use href="#mx" x="382.2" y="340.8"/><use href="#mx" x="383.8" y="342.6"/><use href="#mx" x="385.4" y="344.2"/><use href="#mx" x="387.0" y="345.7"/><use href="#mx" x="388.6" y="347.0"/><use href="#mx" x="390.2" y="348.3"/><use href="#mx" x="391.8" y="349.5"/><use href="#mx" x="393.4" y="350.6"/><use href="#mx" x="395.0" y="351.6"/><use href="#mx" x="396.6" y="352.5"/><use href="#mx" x="398.1" y="353.3"/><use href="#mx" x="399.7" y="354.0"/><use href="#mx" x="401.3" y="354.6"/><use href="#mx" x="402.9" y="355.2"/><use href="#mx" x="404.5" y="355.8"/><use href="#mx" x="406.1" y="356.3"/><use href="#mx" x="407.7" y="356.9"/><use href="#mx" x="409.3" y="357.3"/><use href="#mx" x="410.9" y="357.7"/><use href="#mx" x="412.5" y="358.2"/><use href="#mx" x="414.1" y="358.6"/><use href="#mx" x="415.7" y="359.1"/><use href="#mx" x="417.3" y="359.8"/><use href="#mx" x="418.9" y="360.5"/><use href="#mx" x="420.5" y="361.4"/><use href="#mx" x="422.0" y="362.3"/><use href="#mx" x="423.6" y="363.3"/><use href="#mx" x="425.2" y="364.3"/><use href="#mx" x="426.8" y="365.3"/><use href="#mx" x="428.4" y="366.3"/><use href="#mx" x="430.0" y="367.3"/><use href="#mx" x="431.6" y="368.3"/><use href="#mx" x="433.2" y="369.4"/><use href="#mx" x="434.8" y="370.5"/><use href="#mx" x="436.4" y="371.7"/><use href="#mx" x="438.0" y="372.8"/><use href="#mx" x="439.6" y="373.9"/><use href="#mx" x="441.2" y="375.0"/><use href="#mx" x="442.8" y="376.0"/><use href="#mx" x="444.4" y="377.1"/><use href="#mx" x="445.9" y="378.0"/><use href="#mx" x="447.5" y="379.0"/><use href="#mx" x="449.1" y="379.8"/><use href="#mx" x="450.7" y="380.7"/><use href="#mx" x="452.3" y="381.5"/><use href="#mx" x="453.9" y="382.4"/><use href="#mx" x="455.5" y="383.2"/><use href="#mx" x="457.1" y="383.9"/><use href="#mx" x="458.7" y="384.7"/><use href="#mx" x="460.3" y="385.5"/><use href="#mx" x="461.9" y="386.2"/><use href="#mx" x="463.5" y="386.9"/><use href="#mx" x="465.1" y="387.6"/><use href="#mx" x="466.7" y="388.2"/><use href="#mx" x="468.3" y="388.9"/><use href="#mx" x="469.8" y="389.5"/><use href="#mx" x="471.4" y="390.2"/><use href="#mx" x="473.0" y="390.8"/><use href="#mx" x="474.6" y="391.4"/><use href="#mx" x="476.2" y="392.0"/><use href="#mx" x="477.8" y="392.6"/><use href="#mx" x="479.4" y="393.1"/><use href="#mx" x="481.0" y="393.7"/><use href="#mx" x="482.6" y="394.2"/><use href="#mx" x="484.2" y="394.7"/><use href="#mx" x="485.8" y="395.2"/><use href="#mx" x="487.4" y="395.6"/><use href="#mx" x="489.0" y="396.0"/><use href="#mx" x="490.6" y="396.4"/><use href="#mx" x="492.1" y="396.8"/><use href="#mx" x="493.7" y="397.2"/><use href="#mx" x="495.3" y="397.6"/><use href="#mx" x="496.9" y="398.0"/><use href="#mx" x="498.5" y="398.3"/><use href="#mx" x="500.1" y="398.7"/><use href="#mx" x="501.7" y="399.0"/><use href="#mx" x="503.3" y="399.3"/><use href="#mx" x="504.9" y="399.5"/><use href="#mx" x="506.5" y="399.8"/><use href="#mx" x="508.1" y="400.0"/><use href="#mx" x="509.7" y="400.2"/><use href="#mx" x="511.3" y="400.4"/><use href="#mx" x="512.9" y="400.7"/><use href="#mx" x="514.5" y="400.9"/><use href="#mx" x="516.0" y="401.0"/><use href="#mx" x="517.6" y="401.2"/><use href="#mx" x="519.2" y="401.4"/><use href="#mx" x="520.8" y="401.5"/><use href="#mx" x="522.4" y="401.7"/><use href="#mx" x="524.0" y="401.8"/><use href="#mx" x="525.6" y="401.9"/><use href="#mx" x="527.2" y="402.0"/></g><line x1="471.6" y1="247" x2="471.6" y2="416" stroke="#7878ff" stroke-width="1" stroke-dasharray="1 1"/><text transform="translate(326.30,421.60) scale(1.0,1)" text-anchor="end" style="font-size:13px;letter-spacing:0.2px" >0</text><text transform="translate(326.30,387.38) scale(1.0,1)" text-anchor="end" style="font-size:13px;letter-spacing:0.2px" >0.5</text><text transform="translate(326.30,353.16) scale(1.0,1)" text-anchor="end" style="font-size:13px;letter-spacing:0.2px" >1.0</text><text transform="translate(326.30,318.94) scale(1.0,1)" text-anchor="end" style="font-size:13px;letter-spacing:0.2px" >1.5</text><text transform="translate(326.30,284.72) scale(1.0,1)" text-anchor="end" style="font-size:13px;letter-spacing:0.2px" >2.0</text><text transform="translate(326.30,250.50) scale(1.0,1)" text-anchor="end" style="font-size:13px;letter-spacing:0.2px" >2.5</text><text transform="translate(330.30,434.70) scale(1.0,1)" text-anchor="middle" style="font-size:13px;letter-spacing:0.2px" >0</text><text transform="translate(386.39,434.70) scale(1.0,1)" text-anchor="middle" style="font-size:13px;letter-spacing:0.2px" >0.2</text><text transform="translate(442.47,434.70) scale(1.0,1)" text-anchor="middle" style="font-size:13px;letter-spacing:0.2px" >0.4</text><text transform="translate(498.56,434.70) scale(1.0,1)" text-anchor="middle" style="font-size:13px;letter-spacing:0.2px" >0.6</text><text x="429.1" y="453.5" text-anchor="middle" class="rho">&#961;</text><text transform="translate(521.50,265.50) scale(1.0,1)" text-anchor="end" style="font-size:14.2px;letter-spacing:0.6px" >(d)</text><text transform="translate(19.6,194.7) rotate(-90) scale(1.09,1)" style="font-size:14.5px">n<tspan dy="6.8" style="font-size:10.0px">W</tspan><tspan dy="-6.8" style="font-size:10.0px">32+</tspan><tspan> (10</tspan><tspan dy="-5.3" style="font-size:10.0px">18</tspan><tspan dy="5.3"> cm</tspan><tspan dy="-6.3" style="font-size:10.0px">-3</tspan><tspan dy="6.3">)</tspan></text><text transform="translate(290.8,197.0) rotate(-90) scale(1.09,1)" style="font-size:14.5px">n<tspan dy="6.8" style="font-size:10.0px">Mo</tspan><tspan dy="-6.8" style="font-size:10.0px">31+</tspan><tspan> (10</tspan><tspan dy="-5.3" style="font-size:10.0px">18</tspan><tspan dy="5.3"> cm</tspan><tspan dy="-6.3" style="font-size:10.0px">-3</tspan><tspan dy="6.3">)</tspan></text><text transform="translate(17.1,390.3) rotate(-90) scale(1.09,1)" style="font-size:14.5px">n<tspan dy="6.8" style="font-size:10.0px">Fe</tspan><tspan dy="-6.8" style="font-size:10.0px">22+</tspan><tspan> (10</tspan><tspan dy="-5.3" style="font-size:10.0px">18</tspan><tspan dy="5.3"> cm</tspan><tspan dy="-6.3" style="font-size:10.0px">-3</tspan><tspan dy="6.3">)</tspan></text><text transform="translate(289.8,390.5) rotate(-90) scale(1.09,1)" style="font-size:14.5px">n<tspan dy="6.8" style="font-size:10.0px">Cu</tspan><tspan dy="-6.8" style="font-size:10.0px">25+</tspan><tspan> (10</tspan><tspan dy="-5.3" style="font-size:10.0px">18</tspan><tspan dy="5.3"> cm</tspan><tspan dy="-6.3" style="font-size:10.0px">-3</tspan><tspan dy="6.3">)</tspan></text><rect x="134.6" y="1.6" width="319.5" height="35.2" fill="#fff" stroke="#000" stroke-width="1.4"/><circle cx="146.4" cy="11.6" r="3.3" fill="none" stroke="#0000FF" stroke-width="1.3"/><rect x="143.8" y="25.2" width="5.7" height="5.7" fill="none" stroke="#FF0000" stroke-width="1.2"/><path d="M277,7.2 L281.3,13.8 L272.7,13.8 Z" fill="none" stroke="#02A642" stroke-width="1.15"/><path transform="translate(277.4,28)" d="M0.00,-3.70 L1.03,-2.49 L2.62,-2.62 L2.49,-1.03 L3.70,0.00 L2.49,1.03 L2.62,2.62 L1.03,2.49 L0.00,3.70 L-1.03,2.49 L-2.62,2.62 L-2.49,1.03 L-3.70,0.00 L-2.49,-1.03 L-2.62,-2.62 L-1.03,-2.49 Z" fill="#00FFFF"/><text transform="translate(158.50,16.70) scale(1.0,1)" text-anchor="start" style="font-size:12.5px;letter-spacing:0.48px" >t=2.8 s, w/o RMP</text><text transform="translate(158.50,33.50) scale(1.0,1)" text-anchor="start" style="font-size:12.5px;letter-spacing:0.48px" >t=4.8 s, with RMP</text><text transform="translate(288.90,16.70) scale(1.0,1)" text-anchor="start" style="font-size:12.5px;letter-spacing:0.46px" >t=5.4 s, with RMP &amp; 2/1 LM</text><text transform="translate(288.90,33.50) scale(1.0,1)" text-anchor="start" style="font-size:12.5px;letter-spacing:0.5px" >t=5.8 s, w/o RMP &amp; 2/1 TM</text></svg>
</body></html>
